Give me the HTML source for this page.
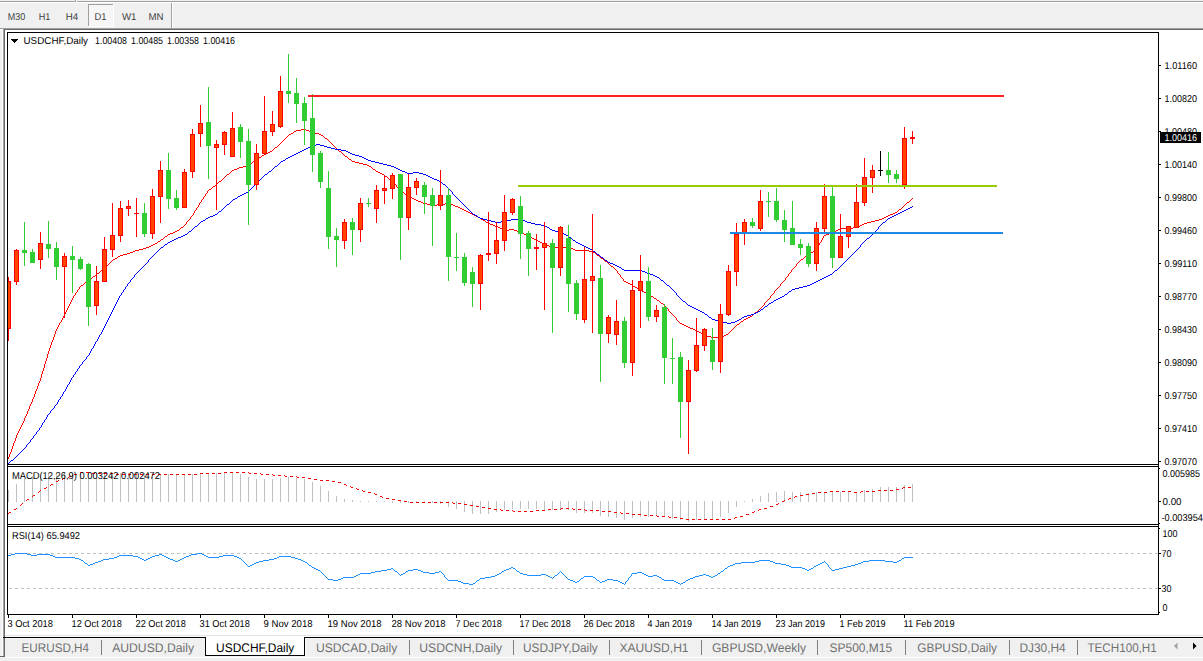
<!DOCTYPE html>
<html><head><meta charset="utf-8"><title>USDCHF,Daily</title>
<style>html,body{margin:0;padding:0;background:#f0f0f0;overflow:hidden}svg{display:block}text{font-family:"Liberation Sans",sans-serif;text-rendering:geometricPrecision}</style></head>
<body>
<svg width="1203" height="661" viewBox="0 0 1203 661">
<g shape-rendering="crispEdges"><rect x="0" y="0" width="1203" height="661" fill="#f0f0f0"/><rect x="0" y="1" width="1203" height="1" fill="#a0a0a0"/><rect x="0" y="2" width="1203" height="1" fill="#ffffff"/><rect x="75" y="0" width="1" height="2" fill="#a0a0a0"/><rect x="76" y="0" width="1" height="2" fill="#ffffff"/><rect x="88" y="4" width="26" height="23" fill="#f6f6f6"/><rect x="88" y="4" width="26" height="1" fill="#a0a0a0"/><rect x="88" y="4" width="1" height="23" fill="#a0a0a0"/><rect x="113" y="4" width="1" height="23" fill="#ffffff"/><rect x="88" y="26" width="26" height="1" fill="#ffffff"/><rect x="171" y="3" width="1" height="25" fill="#a0a0a0"/><rect x="172" y="3" width="1" height="25" fill="#ffffff"/><rect x="0" y="28" width="1203" height="1" fill="#a0a0a0"/><rect x="0" y="29" width="3" height="1" fill="#ffffff"/><rect x="3" y="29" width="1200" height="1" fill="#696969"/><rect x="2" y="30" width="1" height="626" fill="#ffffff"/><rect x="3" y="29" width="1" height="627" fill="#a0a0a0"/><rect x="4" y="29" width="1" height="627" fill="#696969"/><rect x="5" y="30" width="1198" height="607" fill="#ffffff"/><rect x="5" y="635" width="1198" height="1" fill="#e3e3e3"/><rect x="5" y="636" width="1198" height="1" fill="#ffffff"/><rect x="3" y="637" width="1200" height="1" fill="#000000"/><rect x="5" y="638" width="1198" height="1" fill="#f8f8f8"/><rect x="5" y="639" width="1198" height="18" fill="#f0f0f0"/><rect x="0" y="656" width="5" height="1" fill="#696969"/><rect x="5" y="657" width="1198" height="1" fill="#ffffff"/><rect x="7" y="32" width="1152" height="1" fill="#000"/><rect x="7" y="464" width="1152" height="1" fill="#000"/><rect x="7" y="466" width="1152" height="1" fill="#000"/><rect x="7" y="524" width="1152" height="1" fill="#000"/><rect x="7" y="526" width="1152" height="1" fill="#000"/><rect x="7" y="614" width="1152" height="1" fill="#000"/><rect x="7" y="32" width="1" height="583" fill="#000"/><rect x="1158" y="32" width="1" height="583" fill="#000"/></g>
<g shape-rendering="crispEdges" fill="#c0c0c0"><rect x="9" y="553" width="1" height="1"/><rect x="10" y="553" width="1" height="1"/><rect x="11" y="553" width="1" height="1"/><rect x="15" y="553" width="1" height="1"/><rect x="16" y="553" width="1" height="1"/><rect x="17" y="553" width="1" height="1"/><rect x="21" y="553" width="1" height="1"/><rect x="22" y="553" width="1" height="1"/><rect x="23" y="553" width="1" height="1"/><rect x="27" y="553" width="1" height="1"/><rect x="28" y="553" width="1" height="1"/><rect x="29" y="553" width="1" height="1"/><rect x="33" y="553" width="1" height="1"/><rect x="34" y="553" width="1" height="1"/><rect x="35" y="553" width="1" height="1"/><rect x="39" y="553" width="1" height="1"/><rect x="40" y="553" width="1" height="1"/><rect x="41" y="553" width="1" height="1"/><rect x="45" y="553" width="1" height="1"/><rect x="46" y="553" width="1" height="1"/><rect x="47" y="553" width="1" height="1"/><rect x="51" y="553" width="1" height="1"/><rect x="52" y="553" width="1" height="1"/><rect x="53" y="553" width="1" height="1"/><rect x="57" y="553" width="1" height="1"/><rect x="58" y="553" width="1" height="1"/><rect x="59" y="553" width="1" height="1"/><rect x="63" y="553" width="1" height="1"/><rect x="64" y="553" width="1" height="1"/><rect x="65" y="553" width="1" height="1"/><rect x="69" y="553" width="1" height="1"/><rect x="70" y="553" width="1" height="1"/><rect x="71" y="553" width="1" height="1"/><rect x="75" y="553" width="1" height="1"/><rect x="76" y="553" width="1" height="1"/><rect x="77" y="553" width="1" height="1"/><rect x="81" y="553" width="1" height="1"/><rect x="82" y="553" width="1" height="1"/><rect x="83" y="553" width="1" height="1"/><rect x="87" y="553" width="1" height="1"/><rect x="88" y="553" width="1" height="1"/><rect x="89" y="553" width="1" height="1"/><rect x="93" y="553" width="1" height="1"/><rect x="94" y="553" width="1" height="1"/><rect x="95" y="553" width="1" height="1"/><rect x="99" y="553" width="1" height="1"/><rect x="100" y="553" width="1" height="1"/><rect x="101" y="553" width="1" height="1"/><rect x="105" y="553" width="1" height="1"/><rect x="106" y="553" width="1" height="1"/><rect x="107" y="553" width="1" height="1"/><rect x="111" y="553" width="1" height="1"/><rect x="112" y="553" width="1" height="1"/><rect x="113" y="553" width="1" height="1"/><rect x="117" y="553" width="1" height="1"/><rect x="118" y="553" width="1" height="1"/><rect x="119" y="553" width="1" height="1"/><rect x="123" y="553" width="1" height="1"/><rect x="124" y="553" width="1" height="1"/><rect x="125" y="553" width="1" height="1"/><rect x="129" y="553" width="1" height="1"/><rect x="130" y="553" width="1" height="1"/><rect x="131" y="553" width="1" height="1"/><rect x="135" y="553" width="1" height="1"/><rect x="136" y="553" width="1" height="1"/><rect x="137" y="553" width="1" height="1"/><rect x="141" y="553" width="1" height="1"/><rect x="142" y="553" width="1" height="1"/><rect x="143" y="553" width="1" height="1"/><rect x="147" y="553" width="1" height="1"/><rect x="148" y="553" width="1" height="1"/><rect x="149" y="553" width="1" height="1"/><rect x="153" y="553" width="1" height="1"/><rect x="154" y="553" width="1" height="1"/><rect x="155" y="553" width="1" height="1"/><rect x="159" y="553" width="1" height="1"/><rect x="160" y="553" width="1" height="1"/><rect x="161" y="553" width="1" height="1"/><rect x="165" y="553" width="1" height="1"/><rect x="166" y="553" width="1" height="1"/><rect x="167" y="553" width="1" height="1"/><rect x="171" y="553" width="1" height="1"/><rect x="172" y="553" width="1" height="1"/><rect x="173" y="553" width="1" height="1"/><rect x="177" y="553" width="1" height="1"/><rect x="178" y="553" width="1" height="1"/><rect x="179" y="553" width="1" height="1"/><rect x="183" y="553" width="1" height="1"/><rect x="184" y="553" width="1" height="1"/><rect x="185" y="553" width="1" height="1"/><rect x="189" y="553" width="1" height="1"/><rect x="190" y="553" width="1" height="1"/><rect x="191" y="553" width="1" height="1"/><rect x="195" y="553" width="1" height="1"/><rect x="196" y="553" width="1" height="1"/><rect x="197" y="553" width="1" height="1"/><rect x="201" y="553" width="1" height="1"/><rect x="202" y="553" width="1" height="1"/><rect x="203" y="553" width="1" height="1"/><rect x="207" y="553" width="1" height="1"/><rect x="208" y="553" width="1" height="1"/><rect x="209" y="553" width="1" height="1"/><rect x="213" y="553" width="1" height="1"/><rect x="214" y="553" width="1" height="1"/><rect x="215" y="553" width="1" height="1"/><rect x="219" y="553" width="1" height="1"/><rect x="220" y="553" width="1" height="1"/><rect x="221" y="553" width="1" height="1"/><rect x="225" y="553" width="1" height="1"/><rect x="226" y="553" width="1" height="1"/><rect x="227" y="553" width="1" height="1"/><rect x="231" y="553" width="1" height="1"/><rect x="232" y="553" width="1" height="1"/><rect x="233" y="553" width="1" height="1"/><rect x="237" y="553" width="1" height="1"/><rect x="238" y="553" width="1" height="1"/><rect x="239" y="553" width="1" height="1"/><rect x="243" y="553" width="1" height="1"/><rect x="244" y="553" width="1" height="1"/><rect x="245" y="553" width="1" height="1"/><rect x="249" y="553" width="1" height="1"/><rect x="250" y="553" width="1" height="1"/><rect x="251" y="553" width="1" height="1"/><rect x="255" y="553" width="1" height="1"/><rect x="256" y="553" width="1" height="1"/><rect x="257" y="553" width="1" height="1"/><rect x="261" y="553" width="1" height="1"/><rect x="262" y="553" width="1" height="1"/><rect x="263" y="553" width="1" height="1"/><rect x="267" y="553" width="1" height="1"/><rect x="268" y="553" width="1" height="1"/><rect x="269" y="553" width="1" height="1"/><rect x="273" y="553" width="1" height="1"/><rect x="274" y="553" width="1" height="1"/><rect x="275" y="553" width="1" height="1"/><rect x="279" y="553" width="1" height="1"/><rect x="280" y="553" width="1" height="1"/><rect x="281" y="553" width="1" height="1"/><rect x="285" y="553" width="1" height="1"/><rect x="286" y="553" width="1" height="1"/><rect x="287" y="553" width="1" height="1"/><rect x="291" y="553" width="1" height="1"/><rect x="292" y="553" width="1" height="1"/><rect x="293" y="553" width="1" height="1"/><rect x="297" y="553" width="1" height="1"/><rect x="298" y="553" width="1" height="1"/><rect x="299" y="553" width="1" height="1"/><rect x="303" y="553" width="1" height="1"/><rect x="304" y="553" width="1" height="1"/><rect x="305" y="553" width="1" height="1"/><rect x="309" y="553" width="1" height="1"/><rect x="310" y="553" width="1" height="1"/><rect x="311" y="553" width="1" height="1"/><rect x="315" y="553" width="1" height="1"/><rect x="316" y="553" width="1" height="1"/><rect x="317" y="553" width="1" height="1"/><rect x="321" y="553" width="1" height="1"/><rect x="322" y="553" width="1" height="1"/><rect x="323" y="553" width="1" height="1"/><rect x="327" y="553" width="1" height="1"/><rect x="328" y="553" width="1" height="1"/><rect x="329" y="553" width="1" height="1"/><rect x="333" y="553" width="1" height="1"/><rect x="334" y="553" width="1" height="1"/><rect x="335" y="553" width="1" height="1"/><rect x="339" y="553" width="1" height="1"/><rect x="340" y="553" width="1" height="1"/><rect x="341" y="553" width="1" height="1"/><rect x="345" y="553" width="1" height="1"/><rect x="346" y="553" width="1" height="1"/><rect x="347" y="553" width="1" height="1"/><rect x="351" y="553" width="1" height="1"/><rect x="352" y="553" width="1" height="1"/><rect x="353" y="553" width="1" height="1"/><rect x="357" y="553" width="1" height="1"/><rect x="358" y="553" width="1" height="1"/><rect x="359" y="553" width="1" height="1"/><rect x="363" y="553" width="1" height="1"/><rect x="364" y="553" width="1" height="1"/><rect x="365" y="553" width="1" height="1"/><rect x="369" y="553" width="1" height="1"/><rect x="370" y="553" width="1" height="1"/><rect x="371" y="553" width="1" height="1"/><rect x="375" y="553" width="1" height="1"/><rect x="376" y="553" width="1" height="1"/><rect x="377" y="553" width="1" height="1"/><rect x="381" y="553" width="1" height="1"/><rect x="382" y="553" width="1" height="1"/><rect x="383" y="553" width="1" height="1"/><rect x="387" y="553" width="1" height="1"/><rect x="388" y="553" width="1" height="1"/><rect x="389" y="553" width="1" height="1"/><rect x="393" y="553" width="1" height="1"/><rect x="394" y="553" width="1" height="1"/><rect x="395" y="553" width="1" height="1"/><rect x="399" y="553" width="1" height="1"/><rect x="400" y="553" width="1" height="1"/><rect x="401" y="553" width="1" height="1"/><rect x="405" y="553" width="1" height="1"/><rect x="406" y="553" width="1" height="1"/><rect x="407" y="553" width="1" height="1"/><rect x="411" y="553" width="1" height="1"/><rect x="412" y="553" width="1" height="1"/><rect x="413" y="553" width="1" height="1"/><rect x="417" y="553" width="1" height="1"/><rect x="418" y="553" width="1" height="1"/><rect x="419" y="553" width="1" height="1"/><rect x="423" y="553" width="1" height="1"/><rect x="424" y="553" width="1" height="1"/><rect x="425" y="553" width="1" height="1"/><rect x="429" y="553" width="1" height="1"/><rect x="430" y="553" width="1" height="1"/><rect x="431" y="553" width="1" height="1"/><rect x="435" y="553" width="1" height="1"/><rect x="436" y="553" width="1" height="1"/><rect x="437" y="553" width="1" height="1"/><rect x="441" y="553" width="1" height="1"/><rect x="442" y="553" width="1" height="1"/><rect x="443" y="553" width="1" height="1"/><rect x="447" y="553" width="1" height="1"/><rect x="448" y="553" width="1" height="1"/><rect x="449" y="553" width="1" height="1"/><rect x="453" y="553" width="1" height="1"/><rect x="454" y="553" width="1" height="1"/><rect x="455" y="553" width="1" height="1"/><rect x="459" y="553" width="1" height="1"/><rect x="460" y="553" width="1" height="1"/><rect x="461" y="553" width="1" height="1"/><rect x="465" y="553" width="1" height="1"/><rect x="466" y="553" width="1" height="1"/><rect x="467" y="553" width="1" height="1"/><rect x="471" y="553" width="1" height="1"/><rect x="472" y="553" width="1" height="1"/><rect x="473" y="553" width="1" height="1"/><rect x="477" y="553" width="1" height="1"/><rect x="478" y="553" width="1" height="1"/><rect x="479" y="553" width="1" height="1"/><rect x="483" y="553" width="1" height="1"/><rect x="484" y="553" width="1" height="1"/><rect x="485" y="553" width="1" height="1"/><rect x="489" y="553" width="1" height="1"/><rect x="490" y="553" width="1" height="1"/><rect x="491" y="553" width="1" height="1"/><rect x="495" y="553" width="1" height="1"/><rect x="496" y="553" width="1" height="1"/><rect x="497" y="553" width="1" height="1"/><rect x="501" y="553" width="1" height="1"/><rect x="502" y="553" width="1" height="1"/><rect x="503" y="553" width="1" height="1"/><rect x="507" y="553" width="1" height="1"/><rect x="508" y="553" width="1" height="1"/><rect x="509" y="553" width="1" height="1"/><rect x="513" y="553" width="1" height="1"/><rect x="514" y="553" width="1" height="1"/><rect x="515" y="553" width="1" height="1"/><rect x="519" y="553" width="1" height="1"/><rect x="520" y="553" width="1" height="1"/><rect x="521" y="553" width="1" height="1"/><rect x="525" y="553" width="1" height="1"/><rect x="526" y="553" width="1" height="1"/><rect x="527" y="553" width="1" height="1"/><rect x="531" y="553" width="1" height="1"/><rect x="532" y="553" width="1" height="1"/><rect x="533" y="553" width="1" height="1"/><rect x="537" y="553" width="1" height="1"/><rect x="538" y="553" width="1" height="1"/><rect x="539" y="553" width="1" height="1"/><rect x="543" y="553" width="1" height="1"/><rect x="544" y="553" width="1" height="1"/><rect x="545" y="553" width="1" height="1"/><rect x="549" y="553" width="1" height="1"/><rect x="550" y="553" width="1" height="1"/><rect x="551" y="553" width="1" height="1"/><rect x="555" y="553" width="1" height="1"/><rect x="556" y="553" width="1" height="1"/><rect x="557" y="553" width="1" height="1"/><rect x="561" y="553" width="1" height="1"/><rect x="562" y="553" width="1" height="1"/><rect x="563" y="553" width="1" height="1"/><rect x="567" y="553" width="1" height="1"/><rect x="568" y="553" width="1" height="1"/><rect x="569" y="553" width="1" height="1"/><rect x="573" y="553" width="1" height="1"/><rect x="574" y="553" width="1" height="1"/><rect x="575" y="553" width="1" height="1"/><rect x="579" y="553" width="1" height="1"/><rect x="580" y="553" width="1" height="1"/><rect x="581" y="553" width="1" height="1"/><rect x="585" y="553" width="1" height="1"/><rect x="586" y="553" width="1" height="1"/><rect x="587" y="553" width="1" height="1"/><rect x="591" y="553" width="1" height="1"/><rect x="592" y="553" width="1" height="1"/><rect x="593" y="553" width="1" height="1"/><rect x="597" y="553" width="1" height="1"/><rect x="598" y="553" width="1" height="1"/><rect x="599" y="553" width="1" height="1"/><rect x="603" y="553" width="1" height="1"/><rect x="604" y="553" width="1" height="1"/><rect x="605" y="553" width="1" height="1"/><rect x="609" y="553" width="1" height="1"/><rect x="610" y="553" width="1" height="1"/><rect x="611" y="553" width="1" height="1"/><rect x="615" y="553" width="1" height="1"/><rect x="616" y="553" width="1" height="1"/><rect x="617" y="553" width="1" height="1"/><rect x="621" y="553" width="1" height="1"/><rect x="622" y="553" width="1" height="1"/><rect x="623" y="553" width="1" height="1"/><rect x="627" y="553" width="1" height="1"/><rect x="628" y="553" width="1" height="1"/><rect x="629" y="553" width="1" height="1"/><rect x="633" y="553" width="1" height="1"/><rect x="634" y="553" width="1" height="1"/><rect x="635" y="553" width="1" height="1"/><rect x="639" y="553" width="1" height="1"/><rect x="640" y="553" width="1" height="1"/><rect x="641" y="553" width="1" height="1"/><rect x="645" y="553" width="1" height="1"/><rect x="646" y="553" width="1" height="1"/><rect x="647" y="553" width="1" height="1"/><rect x="651" y="553" width="1" height="1"/><rect x="652" y="553" width="1" height="1"/><rect x="653" y="553" width="1" height="1"/><rect x="657" y="553" width="1" height="1"/><rect x="658" y="553" width="1" height="1"/><rect x="659" y="553" width="1" height="1"/><rect x="663" y="553" width="1" height="1"/><rect x="664" y="553" width="1" height="1"/><rect x="665" y="553" width="1" height="1"/><rect x="669" y="553" width="1" height="1"/><rect x="670" y="553" width="1" height="1"/><rect x="671" y="553" width="1" height="1"/><rect x="675" y="553" width="1" height="1"/><rect x="676" y="553" width="1" height="1"/><rect x="677" y="553" width="1" height="1"/><rect x="681" y="553" width="1" height="1"/><rect x="682" y="553" width="1" height="1"/><rect x="683" y="553" width="1" height="1"/><rect x="687" y="553" width="1" height="1"/><rect x="688" y="553" width="1" height="1"/><rect x="689" y="553" width="1" height="1"/><rect x="693" y="553" width="1" height="1"/><rect x="694" y="553" width="1" height="1"/><rect x="695" y="553" width="1" height="1"/><rect x="699" y="553" width="1" height="1"/><rect x="700" y="553" width="1" height="1"/><rect x="701" y="553" width="1" height="1"/><rect x="705" y="553" width="1" height="1"/><rect x="706" y="553" width="1" height="1"/><rect x="707" y="553" width="1" height="1"/><rect x="711" y="553" width="1" height="1"/><rect x="712" y="553" width="1" height="1"/><rect x="713" y="553" width="1" height="1"/><rect x="717" y="553" width="1" height="1"/><rect x="718" y="553" width="1" height="1"/><rect x="719" y="553" width="1" height="1"/><rect x="723" y="553" width="1" height="1"/><rect x="724" y="553" width="1" height="1"/><rect x="725" y="553" width="1" height="1"/><rect x="729" y="553" width="1" height="1"/><rect x="730" y="553" width="1" height="1"/><rect x="731" y="553" width="1" height="1"/><rect x="735" y="553" width="1" height="1"/><rect x="736" y="553" width="1" height="1"/><rect x="737" y="553" width="1" height="1"/><rect x="741" y="553" width="1" height="1"/><rect x="742" y="553" width="1" height="1"/><rect x="743" y="553" width="1" height="1"/><rect x="747" y="553" width="1" height="1"/><rect x="748" y="553" width="1" height="1"/><rect x="749" y="553" width="1" height="1"/><rect x="753" y="553" width="1" height="1"/><rect x="754" y="553" width="1" height="1"/><rect x="755" y="553" width="1" height="1"/><rect x="759" y="553" width="1" height="1"/><rect x="760" y="553" width="1" height="1"/><rect x="761" y="553" width="1" height="1"/><rect x="765" y="553" width="1" height="1"/><rect x="766" y="553" width="1" height="1"/><rect x="767" y="553" width="1" height="1"/><rect x="771" y="553" width="1" height="1"/><rect x="772" y="553" width="1" height="1"/><rect x="773" y="553" width="1" height="1"/><rect x="777" y="553" width="1" height="1"/><rect x="778" y="553" width="1" height="1"/><rect x="779" y="553" width="1" height="1"/><rect x="783" y="553" width="1" height="1"/><rect x="784" y="553" width="1" height="1"/><rect x="785" y="553" width="1" height="1"/><rect x="789" y="553" width="1" height="1"/><rect x="790" y="553" width="1" height="1"/><rect x="791" y="553" width="1" height="1"/><rect x="795" y="553" width="1" height="1"/><rect x="796" y="553" width="1" height="1"/><rect x="797" y="553" width="1" height="1"/><rect x="801" y="553" width="1" height="1"/><rect x="802" y="553" width="1" height="1"/><rect x="803" y="553" width="1" height="1"/><rect x="807" y="553" width="1" height="1"/><rect x="808" y="553" width="1" height="1"/><rect x="809" y="553" width="1" height="1"/><rect x="813" y="553" width="1" height="1"/><rect x="814" y="553" width="1" height="1"/><rect x="815" y="553" width="1" height="1"/><rect x="819" y="553" width="1" height="1"/><rect x="820" y="553" width="1" height="1"/><rect x="821" y="553" width="1" height="1"/><rect x="825" y="553" width="1" height="1"/><rect x="826" y="553" width="1" height="1"/><rect x="827" y="553" width="1" height="1"/><rect x="831" y="553" width="1" height="1"/><rect x="832" y="553" width="1" height="1"/><rect x="833" y="553" width="1" height="1"/><rect x="837" y="553" width="1" height="1"/><rect x="838" y="553" width="1" height="1"/><rect x="839" y="553" width="1" height="1"/><rect x="843" y="553" width="1" height="1"/><rect x="844" y="553" width="1" height="1"/><rect x="845" y="553" width="1" height="1"/><rect x="849" y="553" width="1" height="1"/><rect x="850" y="553" width="1" height="1"/><rect x="851" y="553" width="1" height="1"/><rect x="855" y="553" width="1" height="1"/><rect x="856" y="553" width="1" height="1"/><rect x="857" y="553" width="1" height="1"/><rect x="861" y="553" width="1" height="1"/><rect x="862" y="553" width="1" height="1"/><rect x="863" y="553" width="1" height="1"/><rect x="867" y="553" width="1" height="1"/><rect x="868" y="553" width="1" height="1"/><rect x="869" y="553" width="1" height="1"/><rect x="873" y="553" width="1" height="1"/><rect x="874" y="553" width="1" height="1"/><rect x="875" y="553" width="1" height="1"/><rect x="879" y="553" width="1" height="1"/><rect x="880" y="553" width="1" height="1"/><rect x="881" y="553" width="1" height="1"/><rect x="885" y="553" width="1" height="1"/><rect x="886" y="553" width="1" height="1"/><rect x="887" y="553" width="1" height="1"/><rect x="891" y="553" width="1" height="1"/><rect x="892" y="553" width="1" height="1"/><rect x="893" y="553" width="1" height="1"/><rect x="897" y="553" width="1" height="1"/><rect x="898" y="553" width="1" height="1"/><rect x="899" y="553" width="1" height="1"/><rect x="903" y="553" width="1" height="1"/><rect x="904" y="553" width="1" height="1"/><rect x="905" y="553" width="1" height="1"/><rect x="909" y="553" width="1" height="1"/><rect x="910" y="553" width="1" height="1"/><rect x="911" y="553" width="1" height="1"/><rect x="915" y="553" width="1" height="1"/><rect x="916" y="553" width="1" height="1"/><rect x="917" y="553" width="1" height="1"/><rect x="921" y="553" width="1" height="1"/><rect x="922" y="553" width="1" height="1"/><rect x="923" y="553" width="1" height="1"/><rect x="927" y="553" width="1" height="1"/><rect x="928" y="553" width="1" height="1"/><rect x="929" y="553" width="1" height="1"/><rect x="933" y="553" width="1" height="1"/><rect x="934" y="553" width="1" height="1"/><rect x="935" y="553" width="1" height="1"/><rect x="939" y="553" width="1" height="1"/><rect x="940" y="553" width="1" height="1"/><rect x="941" y="553" width="1" height="1"/><rect x="945" y="553" width="1" height="1"/><rect x="946" y="553" width="1" height="1"/><rect x="947" y="553" width="1" height="1"/><rect x="951" y="553" width="1" height="1"/><rect x="952" y="553" width="1" height="1"/><rect x="953" y="553" width="1" height="1"/><rect x="957" y="553" width="1" height="1"/><rect x="958" y="553" width="1" height="1"/><rect x="959" y="553" width="1" height="1"/><rect x="963" y="553" width="1" height="1"/><rect x="964" y="553" width="1" height="1"/><rect x="965" y="553" width="1" height="1"/><rect x="969" y="553" width="1" height="1"/><rect x="970" y="553" width="1" height="1"/><rect x="971" y="553" width="1" height="1"/><rect x="975" y="553" width="1" height="1"/><rect x="976" y="553" width="1" height="1"/><rect x="977" y="553" width="1" height="1"/><rect x="981" y="553" width="1" height="1"/><rect x="982" y="553" width="1" height="1"/><rect x="983" y="553" width="1" height="1"/><rect x="987" y="553" width="1" height="1"/><rect x="988" y="553" width="1" height="1"/><rect x="989" y="553" width="1" height="1"/><rect x="993" y="553" width="1" height="1"/><rect x="994" y="553" width="1" height="1"/><rect x="995" y="553" width="1" height="1"/><rect x="999" y="553" width="1" height="1"/><rect x="1000" y="553" width="1" height="1"/><rect x="1001" y="553" width="1" height="1"/><rect x="1005" y="553" width="1" height="1"/><rect x="1006" y="553" width="1" height="1"/><rect x="1007" y="553" width="1" height="1"/><rect x="1011" y="553" width="1" height="1"/><rect x="1012" y="553" width="1" height="1"/><rect x="1013" y="553" width="1" height="1"/><rect x="1017" y="553" width="1" height="1"/><rect x="1018" y="553" width="1" height="1"/><rect x="1019" y="553" width="1" height="1"/><rect x="1023" y="553" width="1" height="1"/><rect x="1024" y="553" width="1" height="1"/><rect x="1025" y="553" width="1" height="1"/><rect x="1029" y="553" width="1" height="1"/><rect x="1030" y="553" width="1" height="1"/><rect x="1031" y="553" width="1" height="1"/><rect x="1035" y="553" width="1" height="1"/><rect x="1036" y="553" width="1" height="1"/><rect x="1037" y="553" width="1" height="1"/><rect x="1041" y="553" width="1" height="1"/><rect x="1042" y="553" width="1" height="1"/><rect x="1043" y="553" width="1" height="1"/><rect x="1047" y="553" width="1" height="1"/><rect x="1048" y="553" width="1" height="1"/><rect x="1049" y="553" width="1" height="1"/><rect x="1053" y="553" width="1" height="1"/><rect x="1054" y="553" width="1" height="1"/><rect x="1055" y="553" width="1" height="1"/><rect x="1059" y="553" width="1" height="1"/><rect x="1060" y="553" width="1" height="1"/><rect x="1061" y="553" width="1" height="1"/><rect x="1065" y="553" width="1" height="1"/><rect x="1066" y="553" width="1" height="1"/><rect x="1067" y="553" width="1" height="1"/><rect x="1071" y="553" width="1" height="1"/><rect x="1072" y="553" width="1" height="1"/><rect x="1073" y="553" width="1" height="1"/><rect x="1077" y="553" width="1" height="1"/><rect x="1078" y="553" width="1" height="1"/><rect x="1079" y="553" width="1" height="1"/><rect x="1083" y="553" width="1" height="1"/><rect x="1084" y="553" width="1" height="1"/><rect x="1085" y="553" width="1" height="1"/><rect x="1089" y="553" width="1" height="1"/><rect x="1090" y="553" width="1" height="1"/><rect x="1091" y="553" width="1" height="1"/><rect x="1095" y="553" width="1" height="1"/><rect x="1096" y="553" width="1" height="1"/><rect x="1097" y="553" width="1" height="1"/><rect x="1101" y="553" width="1" height="1"/><rect x="1102" y="553" width="1" height="1"/><rect x="1103" y="553" width="1" height="1"/><rect x="1107" y="553" width="1" height="1"/><rect x="1108" y="553" width="1" height="1"/><rect x="1109" y="553" width="1" height="1"/><rect x="1113" y="553" width="1" height="1"/><rect x="1114" y="553" width="1" height="1"/><rect x="1115" y="553" width="1" height="1"/><rect x="1119" y="553" width="1" height="1"/><rect x="1120" y="553" width="1" height="1"/><rect x="1121" y="553" width="1" height="1"/><rect x="1125" y="553" width="1" height="1"/><rect x="1126" y="553" width="1" height="1"/><rect x="1127" y="553" width="1" height="1"/><rect x="1131" y="553" width="1" height="1"/><rect x="1132" y="553" width="1" height="1"/><rect x="1133" y="553" width="1" height="1"/><rect x="1137" y="553" width="1" height="1"/><rect x="1138" y="553" width="1" height="1"/><rect x="1139" y="553" width="1" height="1"/><rect x="1143" y="553" width="1" height="1"/><rect x="1144" y="553" width="1" height="1"/><rect x="1145" y="553" width="1" height="1"/><rect x="1149" y="553" width="1" height="1"/><rect x="1150" y="553" width="1" height="1"/><rect x="1151" y="553" width="1" height="1"/><rect x="1155" y="553" width="1" height="1"/><rect x="1156" y="553" width="1" height="1"/><rect x="1157" y="553" width="1" height="1"/><rect x="9" y="588" width="1" height="1"/><rect x="10" y="588" width="1" height="1"/><rect x="11" y="588" width="1" height="1"/><rect x="15" y="588" width="1" height="1"/><rect x="16" y="588" width="1" height="1"/><rect x="17" y="588" width="1" height="1"/><rect x="21" y="588" width="1" height="1"/><rect x="22" y="588" width="1" height="1"/><rect x="23" y="588" width="1" height="1"/><rect x="27" y="588" width="1" height="1"/><rect x="28" y="588" width="1" height="1"/><rect x="29" y="588" width="1" height="1"/><rect x="33" y="588" width="1" height="1"/><rect x="34" y="588" width="1" height="1"/><rect x="35" y="588" width="1" height="1"/><rect x="39" y="588" width="1" height="1"/><rect x="40" y="588" width="1" height="1"/><rect x="41" y="588" width="1" height="1"/><rect x="45" y="588" width="1" height="1"/><rect x="46" y="588" width="1" height="1"/><rect x="47" y="588" width="1" height="1"/><rect x="51" y="588" width="1" height="1"/><rect x="52" y="588" width="1" height="1"/><rect x="53" y="588" width="1" height="1"/><rect x="57" y="588" width="1" height="1"/><rect x="58" y="588" width="1" height="1"/><rect x="59" y="588" width="1" height="1"/><rect x="63" y="588" width="1" height="1"/><rect x="64" y="588" width="1" height="1"/><rect x="65" y="588" width="1" height="1"/><rect x="69" y="588" width="1" height="1"/><rect x="70" y="588" width="1" height="1"/><rect x="71" y="588" width="1" height="1"/><rect x="75" y="588" width="1" height="1"/><rect x="76" y="588" width="1" height="1"/><rect x="77" y="588" width="1" height="1"/><rect x="81" y="588" width="1" height="1"/><rect x="82" y="588" width="1" height="1"/><rect x="83" y="588" width="1" height="1"/><rect x="87" y="588" width="1" height="1"/><rect x="88" y="588" width="1" height="1"/><rect x="89" y="588" width="1" height="1"/><rect x="93" y="588" width="1" height="1"/><rect x="94" y="588" width="1" height="1"/><rect x="95" y="588" width="1" height="1"/><rect x="99" y="588" width="1" height="1"/><rect x="100" y="588" width="1" height="1"/><rect x="101" y="588" width="1" height="1"/><rect x="105" y="588" width="1" height="1"/><rect x="106" y="588" width="1" height="1"/><rect x="107" y="588" width="1" height="1"/><rect x="111" y="588" width="1" height="1"/><rect x="112" y="588" width="1" height="1"/><rect x="113" y="588" width="1" height="1"/><rect x="117" y="588" width="1" height="1"/><rect x="118" y="588" width="1" height="1"/><rect x="119" y="588" width="1" height="1"/><rect x="123" y="588" width="1" height="1"/><rect x="124" y="588" width="1" height="1"/><rect x="125" y="588" width="1" height="1"/><rect x="129" y="588" width="1" height="1"/><rect x="130" y="588" width="1" height="1"/><rect x="131" y="588" width="1" height="1"/><rect x="135" y="588" width="1" height="1"/><rect x="136" y="588" width="1" height="1"/><rect x="137" y="588" width="1" height="1"/><rect x="141" y="588" width="1" height="1"/><rect x="142" y="588" width="1" height="1"/><rect x="143" y="588" width="1" height="1"/><rect x="147" y="588" width="1" height="1"/><rect x="148" y="588" width="1" height="1"/><rect x="149" y="588" width="1" height="1"/><rect x="153" y="588" width="1" height="1"/><rect x="154" y="588" width="1" height="1"/><rect x="155" y="588" width="1" height="1"/><rect x="159" y="588" width="1" height="1"/><rect x="160" y="588" width="1" height="1"/><rect x="161" y="588" width="1" height="1"/><rect x="165" y="588" width="1" height="1"/><rect x="166" y="588" width="1" height="1"/><rect x="167" y="588" width="1" height="1"/><rect x="171" y="588" width="1" height="1"/><rect x="172" y="588" width="1" height="1"/><rect x="173" y="588" width="1" height="1"/><rect x="177" y="588" width="1" height="1"/><rect x="178" y="588" width="1" height="1"/><rect x="179" y="588" width="1" height="1"/><rect x="183" y="588" width="1" height="1"/><rect x="184" y="588" width="1" height="1"/><rect x="185" y="588" width="1" height="1"/><rect x="189" y="588" width="1" height="1"/><rect x="190" y="588" width="1" height="1"/><rect x="191" y="588" width="1" height="1"/><rect x="195" y="588" width="1" height="1"/><rect x="196" y="588" width="1" height="1"/><rect x="197" y="588" width="1" height="1"/><rect x="201" y="588" width="1" height="1"/><rect x="202" y="588" width="1" height="1"/><rect x="203" y="588" width="1" height="1"/><rect x="207" y="588" width="1" height="1"/><rect x="208" y="588" width="1" height="1"/><rect x="209" y="588" width="1" height="1"/><rect x="213" y="588" width="1" height="1"/><rect x="214" y="588" width="1" height="1"/><rect x="215" y="588" width="1" height="1"/><rect x="219" y="588" width="1" height="1"/><rect x="220" y="588" width="1" height="1"/><rect x="221" y="588" width="1" height="1"/><rect x="225" y="588" width="1" height="1"/><rect x="226" y="588" width="1" height="1"/><rect x="227" y="588" width="1" height="1"/><rect x="231" y="588" width="1" height="1"/><rect x="232" y="588" width="1" height="1"/><rect x="233" y="588" width="1" height="1"/><rect x="237" y="588" width="1" height="1"/><rect x="238" y="588" width="1" height="1"/><rect x="239" y="588" width="1" height="1"/><rect x="243" y="588" width="1" height="1"/><rect x="244" y="588" width="1" height="1"/><rect x="245" y="588" width="1" height="1"/><rect x="249" y="588" width="1" height="1"/><rect x="250" y="588" width="1" height="1"/><rect x="251" y="588" width="1" height="1"/><rect x="255" y="588" width="1" height="1"/><rect x="256" y="588" width="1" height="1"/><rect x="257" y="588" width="1" height="1"/><rect x="261" y="588" width="1" height="1"/><rect x="262" y="588" width="1" height="1"/><rect x="263" y="588" width="1" height="1"/><rect x="267" y="588" width="1" height="1"/><rect x="268" y="588" width="1" height="1"/><rect x="269" y="588" width="1" height="1"/><rect x="273" y="588" width="1" height="1"/><rect x="274" y="588" width="1" height="1"/><rect x="275" y="588" width="1" height="1"/><rect x="279" y="588" width="1" height="1"/><rect x="280" y="588" width="1" height="1"/><rect x="281" y="588" width="1" height="1"/><rect x="285" y="588" width="1" height="1"/><rect x="286" y="588" width="1" height="1"/><rect x="287" y="588" width="1" height="1"/><rect x="291" y="588" width="1" height="1"/><rect x="292" y="588" width="1" height="1"/><rect x="293" y="588" width="1" height="1"/><rect x="297" y="588" width="1" height="1"/><rect x="298" y="588" width="1" height="1"/><rect x="299" y="588" width="1" height="1"/><rect x="303" y="588" width="1" height="1"/><rect x="304" y="588" width="1" height="1"/><rect x="305" y="588" width="1" height="1"/><rect x="309" y="588" width="1" height="1"/><rect x="310" y="588" width="1" height="1"/><rect x="311" y="588" width="1" height="1"/><rect x="315" y="588" width="1" height="1"/><rect x="316" y="588" width="1" height="1"/><rect x="317" y="588" width="1" height="1"/><rect x="321" y="588" width="1" height="1"/><rect x="322" y="588" width="1" height="1"/><rect x="323" y="588" width="1" height="1"/><rect x="327" y="588" width="1" height="1"/><rect x="328" y="588" width="1" height="1"/><rect x="329" y="588" width="1" height="1"/><rect x="333" y="588" width="1" height="1"/><rect x="334" y="588" width="1" height="1"/><rect x="335" y="588" width="1" height="1"/><rect x="339" y="588" width="1" height="1"/><rect x="340" y="588" width="1" height="1"/><rect x="341" y="588" width="1" height="1"/><rect x="345" y="588" width="1" height="1"/><rect x="346" y="588" width="1" height="1"/><rect x="347" y="588" width="1" height="1"/><rect x="351" y="588" width="1" height="1"/><rect x="352" y="588" width="1" height="1"/><rect x="353" y="588" width="1" height="1"/><rect x="357" y="588" width="1" height="1"/><rect x="358" y="588" width="1" height="1"/><rect x="359" y="588" width="1" height="1"/><rect x="363" y="588" width="1" height="1"/><rect x="364" y="588" width="1" height="1"/><rect x="365" y="588" width="1" height="1"/><rect x="369" y="588" width="1" height="1"/><rect x="370" y="588" width="1" height="1"/><rect x="371" y="588" width="1" height="1"/><rect x="375" y="588" width="1" height="1"/><rect x="376" y="588" width="1" height="1"/><rect x="377" y="588" width="1" height="1"/><rect x="381" y="588" width="1" height="1"/><rect x="382" y="588" width="1" height="1"/><rect x="383" y="588" width="1" height="1"/><rect x="387" y="588" width="1" height="1"/><rect x="388" y="588" width="1" height="1"/><rect x="389" y="588" width="1" height="1"/><rect x="393" y="588" width="1" height="1"/><rect x="394" y="588" width="1" height="1"/><rect x="395" y="588" width="1" height="1"/><rect x="399" y="588" width="1" height="1"/><rect x="400" y="588" width="1" height="1"/><rect x="401" y="588" width="1" height="1"/><rect x="405" y="588" width="1" height="1"/><rect x="406" y="588" width="1" height="1"/><rect x="407" y="588" width="1" height="1"/><rect x="411" y="588" width="1" height="1"/><rect x="412" y="588" width="1" height="1"/><rect x="413" y="588" width="1" height="1"/><rect x="417" y="588" width="1" height="1"/><rect x="418" y="588" width="1" height="1"/><rect x="419" y="588" width="1" height="1"/><rect x="423" y="588" width="1" height="1"/><rect x="424" y="588" width="1" height="1"/><rect x="425" y="588" width="1" height="1"/><rect x="429" y="588" width="1" height="1"/><rect x="430" y="588" width="1" height="1"/><rect x="431" y="588" width="1" height="1"/><rect x="435" y="588" width="1" height="1"/><rect x="436" y="588" width="1" height="1"/><rect x="437" y="588" width="1" height="1"/><rect x="441" y="588" width="1" height="1"/><rect x="442" y="588" width="1" height="1"/><rect x="443" y="588" width="1" height="1"/><rect x="447" y="588" width="1" height="1"/><rect x="448" y="588" width="1" height="1"/><rect x="449" y="588" width="1" height="1"/><rect x="453" y="588" width="1" height="1"/><rect x="454" y="588" width="1" height="1"/><rect x="455" y="588" width="1" height="1"/><rect x="459" y="588" width="1" height="1"/><rect x="460" y="588" width="1" height="1"/><rect x="461" y="588" width="1" height="1"/><rect x="465" y="588" width="1" height="1"/><rect x="466" y="588" width="1" height="1"/><rect x="467" y="588" width="1" height="1"/><rect x="471" y="588" width="1" height="1"/><rect x="472" y="588" width="1" height="1"/><rect x="473" y="588" width="1" height="1"/><rect x="477" y="588" width="1" height="1"/><rect x="478" y="588" width="1" height="1"/><rect x="479" y="588" width="1" height="1"/><rect x="483" y="588" width="1" height="1"/><rect x="484" y="588" width="1" height="1"/><rect x="485" y="588" width="1" height="1"/><rect x="489" y="588" width="1" height="1"/><rect x="490" y="588" width="1" height="1"/><rect x="491" y="588" width="1" height="1"/><rect x="495" y="588" width="1" height="1"/><rect x="496" y="588" width="1" height="1"/><rect x="497" y="588" width="1" height="1"/><rect x="501" y="588" width="1" height="1"/><rect x="502" y="588" width="1" height="1"/><rect x="503" y="588" width="1" height="1"/><rect x="507" y="588" width="1" height="1"/><rect x="508" y="588" width="1" height="1"/><rect x="509" y="588" width="1" height="1"/><rect x="513" y="588" width="1" height="1"/><rect x="514" y="588" width="1" height="1"/><rect x="515" y="588" width="1" height="1"/><rect x="519" y="588" width="1" height="1"/><rect x="520" y="588" width="1" height="1"/><rect x="521" y="588" width="1" height="1"/><rect x="525" y="588" width="1" height="1"/><rect x="526" y="588" width="1" height="1"/><rect x="527" y="588" width="1" height="1"/><rect x="531" y="588" width="1" height="1"/><rect x="532" y="588" width="1" height="1"/><rect x="533" y="588" width="1" height="1"/><rect x="537" y="588" width="1" height="1"/><rect x="538" y="588" width="1" height="1"/><rect x="539" y="588" width="1" height="1"/><rect x="543" y="588" width="1" height="1"/><rect x="544" y="588" width="1" height="1"/><rect x="545" y="588" width="1" height="1"/><rect x="549" y="588" width="1" height="1"/><rect x="550" y="588" width="1" height="1"/><rect x="551" y="588" width="1" height="1"/><rect x="555" y="588" width="1" height="1"/><rect x="556" y="588" width="1" height="1"/><rect x="557" y="588" width="1" height="1"/><rect x="561" y="588" width="1" height="1"/><rect x="562" y="588" width="1" height="1"/><rect x="563" y="588" width="1" height="1"/><rect x="567" y="588" width="1" height="1"/><rect x="568" y="588" width="1" height="1"/><rect x="569" y="588" width="1" height="1"/><rect x="573" y="588" width="1" height="1"/><rect x="574" y="588" width="1" height="1"/><rect x="575" y="588" width="1" height="1"/><rect x="579" y="588" width="1" height="1"/><rect x="580" y="588" width="1" height="1"/><rect x="581" y="588" width="1" height="1"/><rect x="585" y="588" width="1" height="1"/><rect x="586" y="588" width="1" height="1"/><rect x="587" y="588" width="1" height="1"/><rect x="591" y="588" width="1" height="1"/><rect x="592" y="588" width="1" height="1"/><rect x="593" y="588" width="1" height="1"/><rect x="597" y="588" width="1" height="1"/><rect x="598" y="588" width="1" height="1"/><rect x="599" y="588" width="1" height="1"/><rect x="603" y="588" width="1" height="1"/><rect x="604" y="588" width="1" height="1"/><rect x="605" y="588" width="1" height="1"/><rect x="609" y="588" width="1" height="1"/><rect x="610" y="588" width="1" height="1"/><rect x="611" y="588" width="1" height="1"/><rect x="615" y="588" width="1" height="1"/><rect x="616" y="588" width="1" height="1"/><rect x="617" y="588" width="1" height="1"/><rect x="621" y="588" width="1" height="1"/><rect x="622" y="588" width="1" height="1"/><rect x="623" y="588" width="1" height="1"/><rect x="627" y="588" width="1" height="1"/><rect x="628" y="588" width="1" height="1"/><rect x="629" y="588" width="1" height="1"/><rect x="633" y="588" width="1" height="1"/><rect x="634" y="588" width="1" height="1"/><rect x="635" y="588" width="1" height="1"/><rect x="639" y="588" width="1" height="1"/><rect x="640" y="588" width="1" height="1"/><rect x="641" y="588" width="1" height="1"/><rect x="645" y="588" width="1" height="1"/><rect x="646" y="588" width="1" height="1"/><rect x="647" y="588" width="1" height="1"/><rect x="651" y="588" width="1" height="1"/><rect x="652" y="588" width="1" height="1"/><rect x="653" y="588" width="1" height="1"/><rect x="657" y="588" width="1" height="1"/><rect x="658" y="588" width="1" height="1"/><rect x="659" y="588" width="1" height="1"/><rect x="663" y="588" width="1" height="1"/><rect x="664" y="588" width="1" height="1"/><rect x="665" y="588" width="1" height="1"/><rect x="669" y="588" width="1" height="1"/><rect x="670" y="588" width="1" height="1"/><rect x="671" y="588" width="1" height="1"/><rect x="675" y="588" width="1" height="1"/><rect x="676" y="588" width="1" height="1"/><rect x="677" y="588" width="1" height="1"/><rect x="681" y="588" width="1" height="1"/><rect x="682" y="588" width="1" height="1"/><rect x="683" y="588" width="1" height="1"/><rect x="687" y="588" width="1" height="1"/><rect x="688" y="588" width="1" height="1"/><rect x="689" y="588" width="1" height="1"/><rect x="693" y="588" width="1" height="1"/><rect x="694" y="588" width="1" height="1"/><rect x="695" y="588" width="1" height="1"/><rect x="699" y="588" width="1" height="1"/><rect x="700" y="588" width="1" height="1"/><rect x="701" y="588" width="1" height="1"/><rect x="705" y="588" width="1" height="1"/><rect x="706" y="588" width="1" height="1"/><rect x="707" y="588" width="1" height="1"/><rect x="711" y="588" width="1" height="1"/><rect x="712" y="588" width="1" height="1"/><rect x="713" y="588" width="1" height="1"/><rect x="717" y="588" width="1" height="1"/><rect x="718" y="588" width="1" height="1"/><rect x="719" y="588" width="1" height="1"/><rect x="723" y="588" width="1" height="1"/><rect x="724" y="588" width="1" height="1"/><rect x="725" y="588" width="1" height="1"/><rect x="729" y="588" width="1" height="1"/><rect x="730" y="588" width="1" height="1"/><rect x="731" y="588" width="1" height="1"/><rect x="735" y="588" width="1" height="1"/><rect x="736" y="588" width="1" height="1"/><rect x="737" y="588" width="1" height="1"/><rect x="741" y="588" width="1" height="1"/><rect x="742" y="588" width="1" height="1"/><rect x="743" y="588" width="1" height="1"/><rect x="747" y="588" width="1" height="1"/><rect x="748" y="588" width="1" height="1"/><rect x="749" y="588" width="1" height="1"/><rect x="753" y="588" width="1" height="1"/><rect x="754" y="588" width="1" height="1"/><rect x="755" y="588" width="1" height="1"/><rect x="759" y="588" width="1" height="1"/><rect x="760" y="588" width="1" height="1"/><rect x="761" y="588" width="1" height="1"/><rect x="765" y="588" width="1" height="1"/><rect x="766" y="588" width="1" height="1"/><rect x="767" y="588" width="1" height="1"/><rect x="771" y="588" width="1" height="1"/><rect x="772" y="588" width="1" height="1"/><rect x="773" y="588" width="1" height="1"/><rect x="777" y="588" width="1" height="1"/><rect x="778" y="588" width="1" height="1"/><rect x="779" y="588" width="1" height="1"/><rect x="783" y="588" width="1" height="1"/><rect x="784" y="588" width="1" height="1"/><rect x="785" y="588" width="1" height="1"/><rect x="789" y="588" width="1" height="1"/><rect x="790" y="588" width="1" height="1"/><rect x="791" y="588" width="1" height="1"/><rect x="795" y="588" width="1" height="1"/><rect x="796" y="588" width="1" height="1"/><rect x="797" y="588" width="1" height="1"/><rect x="801" y="588" width="1" height="1"/><rect x="802" y="588" width="1" height="1"/><rect x="803" y="588" width="1" height="1"/><rect x="807" y="588" width="1" height="1"/><rect x="808" y="588" width="1" height="1"/><rect x="809" y="588" width="1" height="1"/><rect x="813" y="588" width="1" height="1"/><rect x="814" y="588" width="1" height="1"/><rect x="815" y="588" width="1" height="1"/><rect x="819" y="588" width="1" height="1"/><rect x="820" y="588" width="1" height="1"/><rect x="821" y="588" width="1" height="1"/><rect x="825" y="588" width="1" height="1"/><rect x="826" y="588" width="1" height="1"/><rect x="827" y="588" width="1" height="1"/><rect x="831" y="588" width="1" height="1"/><rect x="832" y="588" width="1" height="1"/><rect x="833" y="588" width="1" height="1"/><rect x="837" y="588" width="1" height="1"/><rect x="838" y="588" width="1" height="1"/><rect x="839" y="588" width="1" height="1"/><rect x="843" y="588" width="1" height="1"/><rect x="844" y="588" width="1" height="1"/><rect x="845" y="588" width="1" height="1"/><rect x="849" y="588" width="1" height="1"/><rect x="850" y="588" width="1" height="1"/><rect x="851" y="588" width="1" height="1"/><rect x="855" y="588" width="1" height="1"/><rect x="856" y="588" width="1" height="1"/><rect x="857" y="588" width="1" height="1"/><rect x="861" y="588" width="1" height="1"/><rect x="862" y="588" width="1" height="1"/><rect x="863" y="588" width="1" height="1"/><rect x="867" y="588" width="1" height="1"/><rect x="868" y="588" width="1" height="1"/><rect x="869" y="588" width="1" height="1"/><rect x="873" y="588" width="1" height="1"/><rect x="874" y="588" width="1" height="1"/><rect x="875" y="588" width="1" height="1"/><rect x="879" y="588" width="1" height="1"/><rect x="880" y="588" width="1" height="1"/><rect x="881" y="588" width="1" height="1"/><rect x="885" y="588" width="1" height="1"/><rect x="886" y="588" width="1" height="1"/><rect x="887" y="588" width="1" height="1"/><rect x="891" y="588" width="1" height="1"/><rect x="892" y="588" width="1" height="1"/><rect x="893" y="588" width="1" height="1"/><rect x="897" y="588" width="1" height="1"/><rect x="898" y="588" width="1" height="1"/><rect x="899" y="588" width="1" height="1"/><rect x="903" y="588" width="1" height="1"/><rect x="904" y="588" width="1" height="1"/><rect x="905" y="588" width="1" height="1"/><rect x="909" y="588" width="1" height="1"/><rect x="910" y="588" width="1" height="1"/><rect x="911" y="588" width="1" height="1"/><rect x="915" y="588" width="1" height="1"/><rect x="916" y="588" width="1" height="1"/><rect x="917" y="588" width="1" height="1"/><rect x="921" y="588" width="1" height="1"/><rect x="922" y="588" width="1" height="1"/><rect x="923" y="588" width="1" height="1"/><rect x="927" y="588" width="1" height="1"/><rect x="928" y="588" width="1" height="1"/><rect x="929" y="588" width="1" height="1"/><rect x="933" y="588" width="1" height="1"/><rect x="934" y="588" width="1" height="1"/><rect x="935" y="588" width="1" height="1"/><rect x="939" y="588" width="1" height="1"/><rect x="940" y="588" width="1" height="1"/><rect x="941" y="588" width="1" height="1"/><rect x="945" y="588" width="1" height="1"/><rect x="946" y="588" width="1" height="1"/><rect x="947" y="588" width="1" height="1"/><rect x="951" y="588" width="1" height="1"/><rect x="952" y="588" width="1" height="1"/><rect x="953" y="588" width="1" height="1"/><rect x="957" y="588" width="1" height="1"/><rect x="958" y="588" width="1" height="1"/><rect x="959" y="588" width="1" height="1"/><rect x="963" y="588" width="1" height="1"/><rect x="964" y="588" width="1" height="1"/><rect x="965" y="588" width="1" height="1"/><rect x="969" y="588" width="1" height="1"/><rect x="970" y="588" width="1" height="1"/><rect x="971" y="588" width="1" height="1"/><rect x="975" y="588" width="1" height="1"/><rect x="976" y="588" width="1" height="1"/><rect x="977" y="588" width="1" height="1"/><rect x="981" y="588" width="1" height="1"/><rect x="982" y="588" width="1" height="1"/><rect x="983" y="588" width="1" height="1"/><rect x="987" y="588" width="1" height="1"/><rect x="988" y="588" width="1" height="1"/><rect x="989" y="588" width="1" height="1"/><rect x="993" y="588" width="1" height="1"/><rect x="994" y="588" width="1" height="1"/><rect x="995" y="588" width="1" height="1"/><rect x="999" y="588" width="1" height="1"/><rect x="1000" y="588" width="1" height="1"/><rect x="1001" y="588" width="1" height="1"/><rect x="1005" y="588" width="1" height="1"/><rect x="1006" y="588" width="1" height="1"/><rect x="1007" y="588" width="1" height="1"/><rect x="1011" y="588" width="1" height="1"/><rect x="1012" y="588" width="1" height="1"/><rect x="1013" y="588" width="1" height="1"/><rect x="1017" y="588" width="1" height="1"/><rect x="1018" y="588" width="1" height="1"/><rect x="1019" y="588" width="1" height="1"/><rect x="1023" y="588" width="1" height="1"/><rect x="1024" y="588" width="1" height="1"/><rect x="1025" y="588" width="1" height="1"/><rect x="1029" y="588" width="1" height="1"/><rect x="1030" y="588" width="1" height="1"/><rect x="1031" y="588" width="1" height="1"/><rect x="1035" y="588" width="1" height="1"/><rect x="1036" y="588" width="1" height="1"/><rect x="1037" y="588" width="1" height="1"/><rect x="1041" y="588" width="1" height="1"/><rect x="1042" y="588" width="1" height="1"/><rect x="1043" y="588" width="1" height="1"/><rect x="1047" y="588" width="1" height="1"/><rect x="1048" y="588" width="1" height="1"/><rect x="1049" y="588" width="1" height="1"/><rect x="1053" y="588" width="1" height="1"/><rect x="1054" y="588" width="1" height="1"/><rect x="1055" y="588" width="1" height="1"/><rect x="1059" y="588" width="1" height="1"/><rect x="1060" y="588" width="1" height="1"/><rect x="1061" y="588" width="1" height="1"/><rect x="1065" y="588" width="1" height="1"/><rect x="1066" y="588" width="1" height="1"/><rect x="1067" y="588" width="1" height="1"/><rect x="1071" y="588" width="1" height="1"/><rect x="1072" y="588" width="1" height="1"/><rect x="1073" y="588" width="1" height="1"/><rect x="1077" y="588" width="1" height="1"/><rect x="1078" y="588" width="1" height="1"/><rect x="1079" y="588" width="1" height="1"/><rect x="1083" y="588" width="1" height="1"/><rect x="1084" y="588" width="1" height="1"/><rect x="1085" y="588" width="1" height="1"/><rect x="1089" y="588" width="1" height="1"/><rect x="1090" y="588" width="1" height="1"/><rect x="1091" y="588" width="1" height="1"/><rect x="1095" y="588" width="1" height="1"/><rect x="1096" y="588" width="1" height="1"/><rect x="1097" y="588" width="1" height="1"/><rect x="1101" y="588" width="1" height="1"/><rect x="1102" y="588" width="1" height="1"/><rect x="1103" y="588" width="1" height="1"/><rect x="1107" y="588" width="1" height="1"/><rect x="1108" y="588" width="1" height="1"/><rect x="1109" y="588" width="1" height="1"/><rect x="1113" y="588" width="1" height="1"/><rect x="1114" y="588" width="1" height="1"/><rect x="1115" y="588" width="1" height="1"/><rect x="1119" y="588" width="1" height="1"/><rect x="1120" y="588" width="1" height="1"/><rect x="1121" y="588" width="1" height="1"/><rect x="1125" y="588" width="1" height="1"/><rect x="1126" y="588" width="1" height="1"/><rect x="1127" y="588" width="1" height="1"/><rect x="1131" y="588" width="1" height="1"/><rect x="1132" y="588" width="1" height="1"/><rect x="1133" y="588" width="1" height="1"/><rect x="1137" y="588" width="1" height="1"/><rect x="1138" y="588" width="1" height="1"/><rect x="1139" y="588" width="1" height="1"/><rect x="1143" y="588" width="1" height="1"/><rect x="1144" y="588" width="1" height="1"/><rect x="1145" y="588" width="1" height="1"/><rect x="1149" y="588" width="1" height="1"/><rect x="1150" y="588" width="1" height="1"/><rect x="1151" y="588" width="1" height="1"/><rect x="1155" y="588" width="1" height="1"/><rect x="1156" y="588" width="1" height="1"/><rect x="1157" y="588" width="1" height="1"/></g>
<g shape-rendering="crispEdges" fill="#c0c0c0"><rect x="8" y="490" width="1" height="12" fill="#c0c0c0"/><rect x="16" y="484" width="1" height="18" fill="#c0c0c0"/><rect x="24" y="479" width="1" height="23" fill="#c0c0c0"/><rect x="32" y="476" width="1" height="26" fill="#c0c0c0"/><rect x="40" y="475" width="1" height="27" fill="#c0c0c0"/><rect x="48" y="474" width="1" height="28" fill="#c0c0c0"/><rect x="56" y="474" width="1" height="28" fill="#c0c0c0"/><rect x="64" y="473" width="1" height="29" fill="#c0c0c0"/><rect x="72" y="473" width="1" height="29" fill="#c0c0c0"/><rect x="80" y="473" width="1" height="29" fill="#c0c0c0"/><rect x="88" y="473" width="1" height="29" fill="#c0c0c0"/><rect x="96" y="473" width="1" height="29" fill="#c0c0c0"/><rect x="104" y="473" width="1" height="29" fill="#c0c0c0"/><rect x="112" y="473" width="1" height="29" fill="#c0c0c0"/><rect x="120" y="473" width="1" height="29" fill="#c0c0c0"/><rect x="128" y="473" width="1" height="29" fill="#c0c0c0"/><rect x="136" y="473" width="1" height="29" fill="#c0c0c0"/><rect x="144" y="473" width="1" height="29" fill="#c0c0c0"/><rect x="152" y="473" width="1" height="29" fill="#c0c0c0"/><rect x="160" y="474" width="1" height="28" fill="#c0c0c0"/><rect x="168" y="474" width="1" height="28" fill="#c0c0c0"/><rect x="176" y="475" width="1" height="27" fill="#c0c0c0"/><rect x="184" y="474" width="1" height="28" fill="#c0c0c0"/><rect x="192" y="474" width="1" height="28" fill="#c0c0c0"/><rect x="200" y="473" width="1" height="29" fill="#c0c0c0"/><rect x="208" y="473" width="1" height="29" fill="#c0c0c0"/><rect x="216" y="473" width="1" height="29" fill="#c0c0c0"/><rect x="224" y="473" width="1" height="29" fill="#c0c0c0"/><rect x="232" y="473" width="1" height="29" fill="#c0c0c0"/><rect x="240" y="474" width="1" height="28" fill="#c0c0c0"/><rect x="248" y="477" width="1" height="25" fill="#c0c0c0"/><rect x="256" y="479" width="1" height="23" fill="#c0c0c0"/><rect x="264" y="479" width="1" height="23" fill="#c0c0c0"/><rect x="272" y="479" width="1" height="23" fill="#c0c0c0"/><rect x="280" y="478" width="1" height="24" fill="#c0c0c0"/><rect x="288" y="477" width="1" height="25" fill="#c0c0c0"/><rect x="296" y="478" width="1" height="24" fill="#c0c0c0"/><rect x="304" y="479" width="1" height="23" fill="#c0c0c0"/><rect x="312" y="482" width="1" height="20" fill="#c0c0c0"/><rect x="320" y="486" width="1" height="16" fill="#c0c0c0"/><rect x="328" y="491" width="1" height="11" fill="#c0c0c0"/><rect x="336" y="496" width="1" height="6" fill="#c0c0c0"/><rect x="344" y="499" width="1" height="3" fill="#c0c0c0"/><rect x="352" y="500" width="1" height="2" fill="#c0c0c0"/><rect x="360" y="501" width="1" height="1" fill="#c0c0c0"/><rect x="368" y="501" width="1" height="1" fill="#c0c0c0"/><rect x="376" y="501" width="1" height="1" fill="#c0c0c0"/><rect x="384" y="501" width="1" height="1" fill="#c0c0c0"/><rect x="392" y="501" width="1" height="2" fill="#c0c0c0"/><rect x="400" y="501" width="1" height="2" fill="#c0c0c0"/><rect x="408" y="501" width="1" height="2" fill="#c0c0c0"/><rect x="416" y="501" width="1" height="2" fill="#c0c0c0"/><rect x="424" y="501" width="1" height="2" fill="#c0c0c0"/><rect x="432" y="501" width="1" height="2" fill="#c0c0c0"/><rect x="440" y="501" width="1" height="3" fill="#c0c0c0"/><rect x="448" y="501" width="1" height="6" fill="#c0c0c0"/><rect x="456" y="501" width="1" height="8" fill="#c0c0c0"/><rect x="464" y="501" width="1" height="11" fill="#c0c0c0"/><rect x="472" y="501" width="1" height="13" fill="#c0c0c0"/><rect x="480" y="501" width="1" height="13" fill="#c0c0c0"/><rect x="488" y="501" width="1" height="13" fill="#c0c0c0"/><rect x="496" y="501" width="1" height="11" fill="#c0c0c0"/><rect x="504" y="501" width="1" height="9" fill="#c0c0c0"/><rect x="512" y="501" width="1" height="8" fill="#c0c0c0"/><rect x="520" y="501" width="1" height="8" fill="#c0c0c0"/><rect x="528" y="501" width="1" height="8" fill="#c0c0c0"/><rect x="536" y="501" width="1" height="8" fill="#c0c0c0"/><rect x="544" y="501" width="1" height="9" fill="#c0c0c0"/><rect x="552" y="501" width="1" height="9" fill="#c0c0c0"/><rect x="560" y="501" width="1" height="9" fill="#c0c0c0"/><rect x="568" y="501" width="1" height="9" fill="#c0c0c0"/><rect x="576" y="501" width="1" height="12" fill="#c0c0c0"/><rect x="584" y="501" width="1" height="12" fill="#c0c0c0"/><rect x="592" y="501" width="1" height="12" fill="#c0c0c0"/><rect x="600" y="501" width="1" height="15" fill="#c0c0c0"/><rect x="608" y="501" width="1" height="16" fill="#c0c0c0"/><rect x="616" y="501" width="1" height="17" fill="#c0c0c0"/><rect x="624" y="501" width="1" height="19" fill="#c0c0c0"/><rect x="632" y="501" width="1" height="17" fill="#c0c0c0"/><rect x="640" y="501" width="1" height="16" fill="#c0c0c0"/><rect x="648" y="501" width="1" height="16" fill="#c0c0c0"/><rect x="656" y="501" width="1" height="15" fill="#c0c0c0"/><rect x="664" y="501" width="1" height="16" fill="#c0c0c0"/><rect x="672" y="501" width="1" height="18" fill="#c0c0c0"/><rect x="680" y="501" width="1" height="19" fill="#c0c0c0"/><rect x="688" y="501" width="1" height="21" fill="#c0c0c0"/><rect x="696" y="501" width="1" height="19" fill="#c0c0c0"/><rect x="704" y="501" width="1" height="18" fill="#c0c0c0"/><rect x="712" y="501" width="1" height="18" fill="#c0c0c0"/><rect x="720" y="501" width="1" height="16" fill="#c0c0c0"/><rect x="728" y="501" width="1" height="12" fill="#c0c0c0"/><rect x="736" y="501" width="1" height="6" fill="#c0c0c0"/><rect x="744" y="501" width="1" height="1" fill="#c0c0c0"/><rect x="752" y="499" width="1" height="3" fill="#c0c0c0"/><rect x="760" y="496" width="1" height="6" fill="#c0c0c0"/><rect x="768" y="493" width="1" height="9" fill="#c0c0c0"/><rect x="776" y="492" width="1" height="10" fill="#c0c0c0"/><rect x="784" y="491" width="1" height="11" fill="#c0c0c0"/><rect x="792" y="492" width="1" height="10" fill="#c0c0c0"/><rect x="800" y="492" width="1" height="10" fill="#c0c0c0"/><rect x="808" y="493" width="1" height="9" fill="#c0c0c0"/><rect x="816" y="492" width="1" height="10" fill="#c0c0c0"/><rect x="824" y="492" width="1" height="10" fill="#c0c0c0"/><rect x="832" y="492" width="1" height="10" fill="#c0c0c0"/><rect x="840" y="492" width="1" height="10" fill="#c0c0c0"/><rect x="848" y="492" width="1" height="10" fill="#c0c0c0"/><rect x="856" y="492" width="1" height="10" fill="#c0c0c0"/><rect x="864" y="490" width="1" height="12" fill="#c0c0c0"/><rect x="872" y="489" width="1" height="13" fill="#c0c0c0"/><rect x="880" y="487" width="1" height="15" fill="#c0c0c0"/><rect x="888" y="487" width="1" height="15" fill="#c0c0c0"/><rect x="896" y="487" width="1" height="15" fill="#c0c0c0"/><rect x="904" y="485" width="1" height="17" fill="#c0c0c0"/><rect x="912" y="484" width="1" height="18" fill="#c0c0c0"/></g>
<path d="M80 472h3v1h-3zM86 472h3v1h-3zM224 472h3v1h-3zM230 472h3v1h-3zM236 472h3v1h-3zM242 472h3v1h-3zM248 472h1v1h-1zM92 473h3v1h-3zM98 473h3v1h-3zM104 473h3v1h-3zM110 473h3v1h-3zM200 473h3v1h-3zM206 473h3v1h-3zM212 473h3v1h-3zM218 473h3v1h-3zM249 473h2v1h-2zM254 473h3v1h-3zM260 473h1v1h-1zM74 474h3v1h-3zM116 474h3v1h-3zM122 474h3v1h-3zM128 474h3v1h-3zM134 474h3v1h-3zM140 474h3v1h-3zM146 474h3v1h-3zM152 474h3v1h-3zM158 474h3v1h-3zM164 474h3v1h-3zM170 474h3v1h-3zM176 474h3v1h-3zM182 474h3v1h-3zM188 474h3v1h-3zM194 474h3v1h-3zM261 474h2v1h-2zM266 474h3v1h-3zM272 474h1v1h-1zM273 475h2v1h-2zM278 475h3v1h-3zM284 475h1v1h-1zM69 476h2v1h-2zM285 476h2v1h-2zM290 476h3v1h-3zM296 476h1v1h-1zM68 477h1v1h-1zM297 477h2v1h-2zM302 477h3v1h-3zM63 478h2v1h-2zM308 478h3v1h-3zM62 479h1v1h-1zM314 479h3v1h-3zM58 480h1v1h-1zM320 480h3v1h-3zM326 480h3v1h-3zM56 481h2v1h-2zM332 481h3v1h-3zM338 482h3v1h-3zM51 484h2v1h-2zM344 484h2v1h-2zM50 485h1v1h-1zM346 485h1v1h-1zM350 486h1v1h-1zM46 487h1v1h-1zM351 487h2v1h-2zM903 487h2v1h-2zM908 487h3v1h-3zM44 488h2v1h-2zM356 488h1v1h-1zM902 488h1v1h-1zM357 489h2v1h-2zM896 489h3v1h-3zM40 490h1v1h-1zM362 490h1v1h-1zM878 490h3v1h-3zM884 490h3v1h-3zM890 490h3v1h-3zM39 491h1v1h-1zM363 491h2v1h-2zM830 491h3v1h-3zM836 491h3v1h-3zM842 491h3v1h-3zM848 491h3v1h-3zM861 491h2v1h-2zM866 491h3v1h-3zM872 491h3v1h-3zM38 492h1v1h-1zM368 492h3v1h-3zM818 492h3v1h-3zM824 492h3v1h-3zM854 492h3v1h-3zM860 492h1v1h-1zM374 493h1v1h-1zM812 493h3v1h-3zM375 494h2v1h-2zM806 494h3v1h-3zM33 495h2v1h-2zM800 495h3v1h-3zM32 496h1v1h-1zM380 496h2v1h-2zM795 496h2v1h-2zM382 497h1v1h-1zM794 497h1v1h-1zM386 498h3v1h-3zM789 498h2v1h-2zM27 499h2v1h-2zM392 499h3v1h-3zM788 499h1v1h-1zM26 500h1v1h-1zM398 500h3v1h-3zM784 500h1v1h-1zM404 501h3v1h-3zM782 501h2v1h-2zM410 502h3v1h-3zM416 502h3v1h-3zM422 502h3v1h-3zM428 502h3v1h-3zM434 502h3v1h-3zM440 502h3v1h-3zM446 502h3v1h-3zM452 502h1v1h-1zM22 503h1v1h-1zM453 503h2v1h-2zM458 503h3v1h-3zM778 503h1v1h-1zM21 504h1v1h-1zM464 504h3v1h-3zM776 504h2v1h-2zM20 505h1v1h-1zM470 505h3v1h-3zM476 506h3v1h-3zM770 506h3v1h-3zM482 507h3v1h-3zM16 508h1v1h-1zM488 508h3v1h-3zM561 508h2v1h-2zM566 508h3v1h-3zM572 508h1v1h-1zM764 508h3v1h-3zM14 509h2v1h-2zM494 509h3v1h-3zM500 509h1v1h-1zM548 509h3v1h-3zM554 509h3v1h-3zM560 509h1v1h-1zM573 509h2v1h-2zM578 509h3v1h-3zM584 509h1v1h-1zM759 509h2v1h-2zM501 510h2v1h-2zM506 510h3v1h-3zM512 510h1v1h-1zM536 510h3v1h-3zM542 510h3v1h-3zM585 510h2v1h-2zM590 510h3v1h-3zM596 510h3v1h-3zM758 510h1v1h-1zM513 511h2v1h-2zM518 511h3v1h-3zM524 511h3v1h-3zM530 511h3v1h-3zM602 511h3v1h-3zM608 511h3v1h-3zM754 511h1v1h-1zM9 512h2v1h-2zM614 512h3v1h-3zM620 512h1v1h-1zM752 512h2v1h-2zM8 513h1v1h-1zM621 513h2v1h-2zM626 513h3v1h-3zM632 514h3v1h-3zM638 514h3v1h-3zM746 514h3v1h-3zM644 515h3v1h-3zM650 515h3v1h-3zM656 515h1v1h-1zM657 516h2v1h-2zM662 516h3v1h-3zM668 516h1v1h-1zM740 516h3v1h-3zM669 517h2v1h-2zM674 517h3v1h-3zM735 517h2v1h-2zM680 518h3v1h-3zM734 518h1v1h-1zM686 519h3v1h-3zM692 519h3v1h-3zM698 519h3v1h-3zM704 519h3v1h-3zM710 519h3v1h-3zM716 519h3v1h-3zM722 519h3v1h-3zM728 519h3v1h-3z" fill="#ff0000" shape-rendering="crispEdges"/>
<path d="M15 553h12v1h-12zM197 553h5v1h-5zM11 554h4v1h-4zM27 554h4v1h-4zM37 554h13v1h-13zM159 554h3v1h-3zM191 554h6v1h-6zM202 554h2v1h-2zM8 555h3v1h-3zM31 555h6v1h-6zM50 555h3v1h-3zM119 555h14v1h-14zM155 555h4v1h-4zM162 555h2v1h-2zM189 555h2v1h-2zM204 555h2v1h-2zM223 555h11v1h-11zM53 556h2v1h-2zM117 556h2v1h-2zM133 556h5v1h-5zM152 556h3v1h-3zM164 556h2v1h-2zM186 556h3v1h-3zM206 556h2v1h-2zM219 556h4v1h-4zM234 556h3v1h-3zM279 556h12v1h-12zM55 557h20v1h-20zM114 557h3v1h-3zM138 557h2v1h-2zM150 557h2v1h-2zM166 557h2v1h-2zM184 557h2v1h-2zM208 557h11v1h-11zM237 557h2v1h-2zM277 557h2v1h-2zM291 557h4v1h-4zM904 557h9v1h-9zM75 558h4v1h-4zM109 558h5v1h-5zM140 558h2v1h-2zM148 558h2v1h-2zM168 558h2v1h-2zM182 558h2v1h-2zM239 558h2v1h-2zM274 558h3v1h-3zM295 558h3v1h-3zM902 558h2v1h-2zM79 559h2v1h-2zM103 559h6v1h-6zM142 559h2v1h-2zM146 559h2v1h-2zM170 559h3v1h-3zM180 559h2v1h-2zM241 559h1v1h-1zM269 559h5v1h-5zM298 559h3v1h-3zM901 559h1v1h-1zM81 560h2v1h-2zM101 560h2v1h-2zM144 560h2v1h-2zM173 560h2v1h-2zM178 560h2v1h-2zM242 560h1v1h-1zM263 560h6v1h-6zM301 560h2v1h-2zM759 560h11v1h-11zM869 560h16v1h-16zM899 560h2v1h-2zM83 561h1v1h-1zM98 561h3v1h-3zM175 561h3v1h-3zM243 561h1v1h-1zM259 561h4v1h-4zM303 561h2v1h-2zM755 561h4v1h-4zM770 561h3v1h-3zM824 561h1v1h-1zM863 561h6v1h-6zM885 561h8v1h-8zM897 561h2v1h-2zM84 562h1v1h-1zM95 562h3v1h-3zM244 562h1v1h-1zM256 562h3v1h-3zM305 562h2v1h-2zM741 562h14v1h-14zM773 562h2v1h-2zM822 562h2v1h-2zM825 562h1v1h-1zM861 562h2v1h-2zM893 562h4v1h-4zM85 563h2v1h-2zM93 563h2v1h-2zM245 563h1v1h-1zM254 563h2v1h-2zM307 563h1v1h-1zM735 563h6v1h-6zM775 563h6v1h-6zM820 563h2v1h-2zM826 563h1v1h-1zM858 563h3v1h-3zM87 564h1v1h-1zM90 564h3v1h-3zM246 564h1v1h-1zM252 564h2v1h-2zM308 564h1v1h-1zM733 564h2v1h-2zM781 564h5v1h-5zM818 564h2v1h-2zM827 564h1v1h-1zM855 564h3v1h-3zM88 565h2v1h-2zM247 565h1v1h-1zM250 565h2v1h-2zM309 565h2v1h-2zM730 565h3v1h-3zM786 565h3v1h-3zM816 565h2v1h-2zM828 565h1v2h-1zM851 565h4v1h-4zM248 566h2v1h-2zM311 566h1v1h-1zM728 566h2v1h-2zM789 566h2v1h-2zM814 566h2v1h-2zM847 566h4v1h-4zM312 567h2v1h-2zM511 567h2v1h-2zM727 567h1v1h-1zM791 567h11v1h-11zM813 567h1v1h-1zM829 567h1v1h-1zM843 567h4v1h-4zM314 568h2v1h-2zM391 568h2v1h-2zM509 568h2v1h-2zM513 568h2v1h-2zM725 568h2v1h-2zM802 568h3v1h-3zM811 568h2v1h-2zM830 568h1v1h-1zM839 568h4v1h-4zM316 569h2v1h-2zM387 569h4v1h-4zM393 569h1v1h-1zM413 569h5v1h-5zM506 569h3v1h-3zM515 569h1v1h-1zM724 569h1v1h-1zM805 569h2v1h-2zM809 569h2v1h-2zM831 569h1v1h-1zM835 569h4v1h-4zM318 570h2v1h-2zM381 570h6v1h-6zM394 570h1v1h-1zM408 570h5v1h-5zM418 570h3v1h-3zM504 570h2v1h-2zM516 570h1v1h-1zM723 570h1v1h-1zM807 570h2v1h-2zM832 570h3v1h-3zM320 571h1v1h-1zM375 571h6v1h-6zM395 571h2v1h-2zM406 571h2v1h-2zM421 571h2v1h-2zM439 571h2v1h-2zM502 571h2v1h-2zM517 571h2v1h-2zM560 571h1v1h-1zM721 571h2v1h-2zM321 572h1v1h-1zM371 572h4v1h-4zM397 572h1v1h-1zM405 572h1v1h-1zM423 572h6v1h-6zM435 572h4v1h-4zM441 572h1v1h-1zM501 572h1v1h-1zM519 572h1v1h-1zM559 572h1v1h-1zM561 572h1v1h-1zM637 572h5v1h-5zM720 572h1v1h-1zM322 573h1v1h-1zM360 573h11v1h-11zM398 573h1v1h-1zM403 573h2v1h-2zM429 573h6v1h-6zM442 573h1v1h-1zM499 573h2v1h-2zM520 573h3v1h-3zM558 573h1v1h-1zM562 573h1v1h-1zM632 573h5v1h-5zM642 573h2v1h-2zM718 573h2v1h-2zM323 574h1v1h-1zM358 574h2v1h-2zM399 574h1v1h-1zM401 574h2v1h-2zM443 574h1v1h-1zM497 574h2v1h-2zM523 574h4v1h-4zM541 574h5v1h-5zM557 574h1v1h-1zM563 574h1v1h-1zM631 574h1v2h-1zM644 574h2v1h-2zM703 574h3v1h-3zM717 574h1v1h-1zM324 575h1v1h-1zM356 575h2v1h-2zM400 575h1v1h-1zM444 575h1v2h-1zM495 575h2v1h-2zM527 575h14v1h-14zM546 575h2v1h-2zM555 575h2v1h-2zM564 575h1v1h-1zM646 575h2v1h-2zM653 575h4v1h-4zM699 575h4v1h-4zM706 575h3v1h-3zM715 575h2v1h-2zM325 576h1v1h-1zM354 576h2v1h-2zM491 576h4v1h-4zM548 576h2v1h-2zM554 576h1v1h-1zM565 576h1v1h-1zM584 576h9v1h-9zM630 576h1v1h-1zM648 576h5v1h-5zM657 576h2v1h-2zM695 576h4v1h-4zM709 576h2v1h-2zM713 576h2v1h-2zM326 577h1v1h-1zM343 577h11v1h-11zM445 577h1v1h-1zM485 577h6v1h-6zM550 577h2v1h-2zM553 577h1v1h-1zM566 577h1v1h-1zM583 577h1v1h-1zM593 577h2v1h-2zM629 577h1v1h-1zM659 577h2v1h-2zM693 577h2v1h-2zM711 577h2v1h-2zM327 578h1v1h-1zM341 578h2v1h-2zM446 578h1v1h-1zM480 578h5v1h-5zM552 578h1v1h-1zM567 578h1v1h-1zM581 578h2v1h-2zM595 578h1v1h-1zM628 578h1v2h-1zM661 578h1v1h-1zM690 578h3v1h-3zM328 579h5v1h-5zM338 579h3v1h-3zM447 579h1v1h-1zM479 579h1v1h-1zM568 579h2v1h-2zM580 579h1v1h-1zM596 579h1v1h-1zM607 579h6v1h-6zM662 579h2v1h-2zM688 579h2v1h-2zM333 580h5v1h-5zM448 580h10v1h-10zM477 580h2v1h-2zM570 580h3v1h-3zM579 580h1v1h-1zM597 580h2v1h-2zM605 580h2v1h-2zM613 580h5v1h-5zM627 580h1v1h-1zM664 580h10v1h-10zM686 580h2v1h-2zM458 581h3v1h-3zM476 581h1v1h-1zM573 581h2v1h-2zM577 581h2v1h-2zM599 581h1v1h-1zM602 581h3v1h-3zM618 581h2v1h-2zM626 581h1v1h-1zM674 581h2v1h-2zM685 581h1v1h-1zM461 582h2v1h-2zM475 582h1v1h-1zM575 582h2v1h-2zM600 582h2v1h-2zM620 582h2v1h-2zM625 582h1v2h-1zM676 582h2v1h-2zM683 582h2v1h-2zM463 583h6v1h-6zM473 583h2v1h-2zM622 583h2v1h-2zM678 583h2v1h-2zM681 583h2v1h-2zM469 584h4v1h-4zM624 584h1v1h-1zM680 584h1v1h-1z" fill="#1e90ff" shape-rendering="crispEdges"/>
<path d="M301 129h5v1h-5zM296 130h5v1h-5zM306 130h3v1h-3zM294 131h2v1h-2zM309 131h2v1h-2zM293 132h1v1h-1zM311 132h4v1h-4zM291 133h2v1h-2zM315 133h4v1h-4zM289 134h2v1h-2zM319 134h2v1h-2zM288 135h1v1h-1zM321 135h2v1h-2zM287 136h1v1h-1zM323 136h1v1h-1zM286 137h1v1h-1zM324 137h1v1h-1zM285 138h1v1h-1zM325 138h2v1h-2zM284 139h1v1h-1zM327 139h1v1h-1zM283 140h1v1h-1zM328 140h1v1h-1zM282 141h1v1h-1zM329 141h1v1h-1zM281 142h1v1h-1zM330 142h1v1h-1zM280 143h1v1h-1zM331 143h1v1h-1zM279 144h1v1h-1zM332 144h1v1h-1zM278 145h1v1h-1zM333 145h1v1h-1zM277 146h1v1h-1zM334 146h1v1h-1zM275 147h2v1h-2zM335 147h1v1h-1zM274 148h1v1h-1zM336 148h1v1h-1zM273 149h1v1h-1zM337 149h1v1h-1zM272 150h1v1h-1zM338 150h1v1h-1zM270 151h2v1h-2zM339 151h2v1h-2zM268 152h2v1h-2zM341 152h1v1h-1zM266 153h2v1h-2zM342 153h1v1h-1zM264 154h2v1h-2zM343 154h1v1h-1zM262 155h2v1h-2zM344 155h1v1h-1zM261 156h1v1h-1zM345 156h2v1h-2zM259 157h2v1h-2zM347 157h1v1h-1zM257 158h2v1h-2zM348 158h1v1h-1zM256 159h1v1h-1zM349 159h2v1h-2zM255 160h1v1h-1zM351 160h1v1h-1zM253 161h2v1h-2zM352 161h3v1h-3zM252 162h1v1h-1zM355 162h4v1h-4zM251 163h1v1h-1zM359 163h4v1h-4zM249 164h2v1h-2zM363 164h4v1h-4zM247 165h2v1h-2zM367 165h2v1h-2zM243 166h4v1h-4zM369 166h2v1h-2zM239 167h4v1h-4zM371 167h1v1h-1zM237 168h2v1h-2zM372 168h1v1h-1zM234 169h3v1h-3zM373 169h2v1h-2zM232 170h2v1h-2zM375 170h1v1h-1zM231 171h1v1h-1zM376 171h2v1h-2zM230 172h1v1h-1zM378 172h2v1h-2zM229 173h1v1h-1zM380 173h2v1h-2zM227 174h2v1h-2zM382 174h2v1h-2zM226 175h1v1h-1zM384 175h1v1h-1zM225 176h1v1h-1zM385 176h2v1h-2zM224 177h1v1h-1zM387 177h1v1h-1zM223 178h1v1h-1zM388 178h1v1h-1zM222 179h1v1h-1zM389 179h2v1h-2zM221 180h1v1h-1zM391 180h1v1h-1zM219 181h2v1h-2zM392 181h1v1h-1zM218 182h1v1h-1zM393 182h1v1h-1zM217 183h1v1h-1zM394 183h1v1h-1zM216 184h1v1h-1zM395 184h1v1h-1zM215 185h1v1h-1zM396 185h1v2h-1zM213 186h2v1h-2zM212 187h1v1h-1zM397 187h1v1h-1zM211 188h1v1h-1zM398 188h1v1h-1zM209 189h2v1h-2zM399 189h1v1h-1zM208 190h1v1h-1zM400 190h1v1h-1zM207 191h1v2h-1zM401 191h2v1h-2zM403 192h1v1h-1zM206 193h1v1h-1zM404 193h1v1h-1zM205 194h1v2h-1zM405 194h2v1h-2zM407 195h1v1h-1zM204 196h1v1h-1zM408 196h2v1h-2zM203 197h1v2h-1zM410 197h2v1h-2zM412 198h2v1h-2zM912 198h1v1h-1zM202 199h1v1h-1zM414 199h2v1h-2zM911 199h1v1h-1zM201 200h1v2h-1zM416 200h2v1h-2zM910 200h1v1h-1zM418 201h3v1h-3zM909 201h1v1h-1zM200 202h1v1h-1zM421 202h2v1h-2zM907 202h2v1h-2zM199 203h1v2h-1zM423 203h4v1h-4zM445 203h5v1h-5zM906 203h1v1h-1zM427 204h4v1h-4zM437 204h8v1h-8zM450 204h3v1h-3zM905 204h1v1h-1zM198 205h1v2h-1zM431 205h6v1h-6zM453 205h2v1h-2zM904 205h1v1h-1zM455 206h3v1h-3zM903 206h1v1h-1zM197 207h1v1h-1zM458 207h2v1h-2zM902 207h1v1h-1zM196 208h1v2h-1zM460 208h2v1h-2zM901 208h1v1h-1zM462 209h2v1h-2zM899 209h2v1h-2zM195 210h1v1h-1zM464 210h2v1h-2zM898 210h1v1h-1zM194 211h1v2h-1zM466 211h2v1h-2zM897 211h1v1h-1zM468 212h2v1h-2zM895 212h2v1h-2zM193 213h1v2h-1zM470 213h2v1h-2zM893 213h2v1h-2zM472 214h2v1h-2zM890 214h3v1h-3zM192 215h1v1h-1zM474 215h2v1h-2zM888 215h2v1h-2zM191 216h1v1h-1zM476 216h2v1h-2zM886 216h2v1h-2zM190 217h1v2h-1zM478 217h2v1h-2zM884 217h2v1h-2zM480 218h1v1h-1zM882 218h2v1h-2zM189 219h1v1h-1zM481 219h2v1h-2zM879 219h3v1h-3zM188 220h1v1h-1zM483 220h2v1h-2zM875 220h4v1h-4zM187 221h1v1h-1zM485 221h1v1h-1zM871 221h4v1h-4zM186 222h1v2h-1zM486 222h2v1h-2zM867 222h4v1h-4zM488 223h2v1h-2zM864 223h3v1h-3zM185 224h1v1h-1zM490 224h3v1h-3zM862 224h2v1h-2zM184 225h1v1h-1zM493 225h2v1h-2zM860 225h2v1h-2zM183 226h1v1h-1zM495 226h3v1h-3zM858 226h2v1h-2zM181 227h2v1h-2zM498 227h2v1h-2zM853 227h5v1h-5zM180 228h1v1h-1zM500 228h2v1h-2zM840 228h13v1h-13zM179 229h1v1h-1zM502 229h2v1h-2zM509 229h5v1h-5zM838 229h2v1h-2zM177 230h2v1h-2zM504 230h5v1h-5zM514 230h3v1h-3zM836 230h2v1h-2zM175 231h2v1h-2zM517 231h2v1h-2zM834 231h2v1h-2zM173 232h2v1h-2zM519 232h3v1h-3zM831 232h3v1h-3zM170 233h3v1h-3zM522 233h2v1h-2zM829 233h2v1h-2zM168 234h2v1h-2zM524 234h2v1h-2zM826 234h3v1h-3zM167 235h1v1h-1zM526 235h2v1h-2zM824 235h2v1h-2zM165 236h2v1h-2zM528 236h2v1h-2zM823 236h1v2h-1zM164 237h1v1h-1zM530 237h2v1h-2zM163 238h1v1h-1zM532 238h2v1h-2zM822 238h1v2h-1zM161 239h2v1h-2zM534 239h2v1h-2zM160 240h1v1h-1zM536 240h2v1h-2zM821 240h1v2h-1zM158 241h2v1h-2zM538 241h2v1h-2zM157 242h1v1h-1zM540 242h2v1h-2zM820 242h1v1h-1zM155 243h2v1h-2zM542 243h2v1h-2zM819 243h1v2h-1zM153 244h2v1h-2zM544 244h2v1h-2zM151 245h2v1h-2zM546 245h3v1h-3zM818 245h1v2h-1zM149 246h2v1h-2zM549 246h2v1h-2zM146 247h3v1h-3zM551 247h19v1h-19zM817 247h1v2h-1zM143 248h3v1h-3zM570 248h3v1h-3zM139 249h4v1h-4zM573 249h2v1h-2zM816 249h1v1h-1zM135 250h4v1h-4zM575 250h14v1h-14zM814 250h2v1h-2zM133 251h2v1h-2zM589 251h4v1h-4zM813 251h1v1h-1zM130 252h3v1h-3zM593 252h2v1h-2zM811 252h2v1h-2zM127 253h3v1h-3zM595 253h1v1h-1zM809 253h2v1h-2zM123 254h4v1h-4zM596 254h1v1h-1zM808 254h1v1h-1zM120 255h3v1h-3zM597 255h2v1h-2zM807 255h1v1h-1zM118 256h2v1h-2zM599 256h1v1h-1zM805 256h2v1h-2zM117 257h1v1h-1zM600 257h1v1h-1zM804 257h1v1h-1zM115 258h2v1h-2zM601 258h2v1h-2zM803 258h1v1h-1zM113 259h2v1h-2zM603 259h1v1h-1zM801 259h2v1h-2zM112 260h1v1h-1zM604 260h1v1h-1zM800 260h1v1h-1zM111 261h1v1h-1zM605 261h2v1h-2zM799 261h1v1h-1zM110 262h1v1h-1zM607 262h1v1h-1zM798 262h1v1h-1zM109 263h1v1h-1zM608 263h1v1h-1zM797 263h1v1h-1zM108 264h1v1h-1zM609 264h1v1h-1zM796 264h1v2h-1zM107 265h1v1h-1zM610 265h1v1h-1zM106 266h1v1h-1zM611 266h2v1h-2zM795 266h1v1h-1zM105 267h1v1h-1zM613 267h1v1h-1zM794 267h1v1h-1zM104 268h1v1h-1zM614 268h1v1h-1zM793 268h1v1h-1zM103 269h1v1h-1zM615 269h1v1h-1zM792 269h1v1h-1zM101 270h2v1h-2zM616 270h1v1h-1zM791 270h1v2h-1zM100 271h1v1h-1zM617 271h1v2h-1zM99 272h1v1h-1zM790 272h1v1h-1zM97 273h2v1h-2zM618 273h1v1h-1zM789 273h1v1h-1zM96 274h1v1h-1zM619 274h1v1h-1zM788 274h1v2h-1zM95 275h1v1h-1zM620 275h1v2h-1zM93 276h2v1h-2zM787 276h1v1h-1zM92 277h1v1h-1zM621 277h1v1h-1zM786 277h1v1h-1zM91 278h1v1h-1zM622 278h1v1h-1zM785 278h1v2h-1zM89 279h2v1h-2zM623 279h1v2h-1zM88 280h1v1h-1zM784 280h1v1h-1zM87 281h1v1h-1zM624 281h2v1h-2zM783 281h1v1h-1zM85 282h2v1h-2zM626 282h2v1h-2zM782 282h1v1h-1zM84 283h1v1h-1zM628 283h2v1h-2zM781 283h1v1h-1zM83 284h1v1h-1zM630 284h2v1h-2zM780 284h1v2h-1zM81 285h2v1h-2zM632 285h1v1h-1zM80 286h1v1h-1zM633 286h2v1h-2zM779 286h1v1h-1zM79 287h1v2h-1zM635 287h2v1h-2zM778 287h1v1h-1zM637 288h1v1h-1zM777 288h1v1h-1zM78 289h1v1h-1zM638 289h2v1h-2zM776 289h1v1h-1zM77 290h1v2h-1zM640 290h2v1h-2zM775 290h1v1h-1zM642 291h2v1h-2zM774 291h1v2h-1zM76 292h1v1h-1zM644 292h2v1h-2zM75 293h1v2h-1zM646 293h2v1h-2zM773 293h1v1h-1zM648 294h1v1h-1zM772 294h1v1h-1zM74 295h1v1h-1zM649 295h2v1h-2zM771 295h1v1h-1zM73 296h1v2h-1zM651 296h2v1h-2zM770 296h1v2h-1zM653 297h1v1h-1zM72 298h1v2h-1zM654 298h2v1h-2zM769 298h1v1h-1zM656 299h1v1h-1zM768 299h1v1h-1zM71 300h1v2h-1zM657 300h2v1h-2zM767 300h1v1h-1zM659 301h1v1h-1zM766 301h1v1h-1zM70 302h1v2h-1zM660 302h1v1h-1zM765 302h1v1h-1zM661 303h2v1h-2zM764 303h1v2h-1zM69 304h1v2h-1zM663 304h1v1h-1zM664 305h1v1h-1zM763 305h1v1h-1zM68 306h1v2h-1zM665 306h1v1h-1zM762 306h1v1h-1zM666 307h1v1h-1zM761 307h1v1h-1zM67 308h1v2h-1zM667 308h1v1h-1zM760 308h1v1h-1zM668 309h1v2h-1zM759 309h1v1h-1zM66 310h1v2h-1zM758 310h1v1h-1zM669 311h1v1h-1zM757 311h1v1h-1zM65 312h1v2h-1zM670 312h1v1h-1zM755 312h2v1h-2zM671 313h1v1h-1zM754 313h1v1h-1zM64 314h1v2h-1zM672 314h1v1h-1zM753 314h1v1h-1zM673 315h1v1h-1zM752 315h1v1h-1zM63 316h1v2h-1zM674 316h1v1h-1zM750 316h2v1h-2zM675 317h1v1h-1zM748 317h2v1h-2zM62 318h1v2h-1zM676 318h1v2h-1zM746 318h2v1h-2zM744 319h2v1h-2zM61 320h1v2h-1zM677 320h1v1h-1zM743 320h1v1h-1zM678 321h1v1h-1zM741 321h2v1h-2zM60 322h1v1h-1zM679 322h1v1h-1zM740 322h1v1h-1zM59 323h1v2h-1zM680 323h2v1h-2zM739 323h1v1h-1zM682 324h2v1h-2zM737 324h2v1h-2zM58 325h1v2h-1zM684 325h2v1h-2zM736 325h1v1h-1zM686 326h2v1h-2zM735 326h1v1h-1zM57 327h1v2h-1zM688 327h2v1h-2zM734 327h1v1h-1zM690 328h3v1h-3zM733 328h1v1h-1zM56 329h1v2h-1zM693 329h2v1h-2zM732 329h1v1h-1zM695 330h2v1h-2zM731 330h1v1h-1zM55 331h1v3h-1zM697 331h2v1h-2zM730 331h1v1h-1zM699 332h2v1h-2zM729 332h1v1h-1zM701 333h1v1h-1zM728 333h1v1h-1zM54 334h1v3h-1zM702 334h2v1h-2zM726 334h2v1h-2zM704 335h3v1h-3zM724 335h2v1h-2zM707 336h4v1h-4zM722 336h2v1h-2zM53 337h1v3h-1zM711 337h11v1h-11zM52 340h1v2h-1zM51 342h1v3h-1zM50 345h1v3h-1zM49 348h1v3h-1zM48 351h1v3h-1zM47 354h1v4h-1zM46 358h1v3h-1zM45 361h1v3h-1zM44 364h1v4h-1zM43 368h1v3h-1zM42 371h1v3h-1zM41 374h1v4h-1zM40 378h1v3h-1zM39 381h1v2h-1zM38 383h1v3h-1zM37 386h1v3h-1zM36 389h1v2h-1zM35 391h1v3h-1zM34 394h1v3h-1zM33 397h1v2h-1zM32 399h1v3h-1zM31 402h1v2h-1zM30 404h1v2h-1zM29 406h1v3h-1zM28 409h1v2h-1zM27 411h1v3h-1zM26 414h1v2h-1zM25 416h1v2h-1zM24 418h1v3h-1zM23 421h1v2h-1zM22 423h1v2h-1zM21 425h1v2h-1zM20 427h1v2h-1zM19 429h1v2h-1zM18 431h1v2h-1zM17 433h1v2h-1zM16 435h1v3h-1zM15 438h1v3h-1zM14 441h1v2h-1zM13 443h1v3h-1zM12 446h1v3h-1zM11 449h1v3h-1zM10 452h1v2h-1zM9 454h1v3h-1zM8 457h1v2h-1z" fill="#ff0000" shape-rendering="crispEdges"/>
<path d="M316 144h4v1h-4zM312 145h4v1h-4zM320 145h4v1h-4zM310 146h2v1h-2zM324 146h3v1h-3zM308 147h2v1h-2zM327 147h4v1h-4zM306 148h2v1h-2zM331 148h4v1h-4zM304 149h2v1h-2zM335 149h6v1h-6zM302 150h2v1h-2zM341 150h5v1h-5zM300 151h2v1h-2zM346 151h2v1h-2zM298 152h2v1h-2zM348 152h2v1h-2zM296 153h2v1h-2zM350 153h2v1h-2zM294 154h2v1h-2zM352 154h3v1h-3zM292 155h2v1h-2zM355 155h4v1h-4zM290 156h2v1h-2zM359 156h3v1h-3zM288 157h2v1h-2zM362 157h2v1h-2zM286 158h2v1h-2zM364 158h2v1h-2zM285 159h1v1h-1zM366 159h2v1h-2zM283 160h2v1h-2zM368 160h3v1h-3zM281 161h2v1h-2zM371 161h4v1h-4zM280 162h1v1h-1zM375 162h4v1h-4zM279 163h1v1h-1zM379 163h4v1h-4zM278 164h1v1h-1zM383 164h4v1h-4zM277 165h1v1h-1zM387 165h4v1h-4zM275 166h2v1h-2zM391 166h3v1h-3zM274 167h1v1h-1zM394 167h2v1h-2zM273 168h1v1h-1zM396 168h2v1h-2zM272 169h1v1h-1zM398 169h2v1h-2zM271 170h1v1h-1zM400 170h2v1h-2zM269 171h2v1h-2zM402 171h3v1h-3zM268 172h1v1h-1zM405 172h2v1h-2zM413 172h6v1h-6zM267 173h1v1h-1zM407 173h6v1h-6zM419 173h4v1h-4zM265 174h2v1h-2zM423 174h3v1h-3zM264 175h1v1h-1zM426 175h2v1h-2zM263 176h1v1h-1zM428 176h2v1h-2zM262 177h1v1h-1zM430 177h2v1h-2zM261 178h1v1h-1zM432 178h2v1h-2zM260 179h1v1h-1zM434 179h3v1h-3zM259 180h1v1h-1zM437 180h2v1h-2zM258 181h1v1h-1zM439 181h2v1h-2zM257 182h1v1h-1zM441 182h1v1h-1zM256 183h1v1h-1zM442 183h1v1h-1zM255 184h1v1h-1zM443 184h2v1h-2zM254 185h1v1h-1zM445 185h1v1h-1zM253 186h1v1h-1zM446 186h1v1h-1zM252 187h1v1h-1zM447 187h1v1h-1zM251 188h1v1h-1zM448 188h1v1h-1zM250 189h1v1h-1zM449 189h1v1h-1zM249 190h1v1h-1zM450 190h1v1h-1zM248 191h1v1h-1zM451 191h1v1h-1zM246 192h2v1h-2zM452 192h1v2h-1zM244 193h2v1h-2zM242 194h2v1h-2zM453 194h1v1h-1zM240 195h2v1h-2zM454 195h1v1h-1zM238 196h2v1h-2zM455 196h1v1h-1zM237 197h1v1h-1zM456 197h1v1h-1zM235 198h2v1h-2zM457 198h1v1h-1zM233 199h2v1h-2zM458 199h1v1h-1zM232 200h1v1h-1zM459 200h1v1h-1zM231 201h1v1h-1zM460 201h1v1h-1zM230 202h1v1h-1zM461 202h1v1h-1zM229 203h1v1h-1zM462 203h1v1h-1zM227 204h2v1h-2zM463 204h1v1h-1zM226 205h1v1h-1zM464 205h1v1h-1zM225 206h1v1h-1zM465 206h1v1h-1zM912 206h1v1h-1zM224 207h1v1h-1zM466 207h1v1h-1zM910 207h2v1h-2zM223 208h1v1h-1zM467 208h1v1h-1zM908 208h2v1h-2zM222 209h1v1h-1zM468 209h1v1h-1zM906 209h2v1h-2zM221 210h1v1h-1zM469 210h1v1h-1zM904 210h2v1h-2zM219 211h2v1h-2zM470 211h1v1h-1zM902 211h2v1h-2zM218 212h1v1h-1zM471 212h1v1h-1zM900 212h2v1h-2zM217 213h1v1h-1zM472 213h1v1h-1zM898 213h2v1h-2zM215 214h2v1h-2zM473 214h2v1h-2zM896 214h2v1h-2zM213 215h2v1h-2zM475 215h2v1h-2zM894 215h2v1h-2zM210 216h3v1h-3zM477 216h1v1h-1zM892 216h2v1h-2zM208 217h2v1h-2zM478 217h2v1h-2zM890 217h2v1h-2zM206 218h2v1h-2zM480 218h3v1h-3zM888 218h2v1h-2zM205 219h1v1h-1zM483 219h4v1h-4zM511 219h11v1h-11zM887 219h1v1h-1zM203 220h2v1h-2zM487 220h4v1h-4zM507 220h4v1h-4zM522 220h3v1h-3zM886 220h1v1h-1zM201 221h2v1h-2zM491 221h4v1h-4zM501 221h6v1h-6zM525 221h2v1h-2zM885 221h1v1h-1zM200 222h1v1h-1zM495 222h6v1h-6zM527 222h4v1h-4zM883 222h2v1h-2zM199 223h1v1h-1zM531 223h4v1h-4zM882 223h1v1h-1zM198 224h1v1h-1zM535 224h6v1h-6zM881 224h1v1h-1zM197 225h1v1h-1zM541 225h4v1h-4zM880 225h1v1h-1zM195 226h2v1h-2zM545 226h2v1h-2zM879 226h1v1h-1zM194 227h1v1h-1zM547 227h2v1h-2zM878 227h1v2h-1zM193 228h1v1h-1zM549 228h1v1h-1zM192 229h1v1h-1zM550 229h2v1h-2zM877 229h1v1h-1zM191 230h1v1h-1zM552 230h3v1h-3zM876 230h1v1h-1zM189 231h2v1h-2zM555 231h4v1h-4zM875 231h1v1h-1zM188 232h1v1h-1zM559 232h3v1h-3zM874 232h1v1h-1zM187 233h1v1h-1zM562 233h2v1h-2zM873 233h1v1h-1zM185 234h2v1h-2zM564 234h2v1h-2zM872 234h1v1h-1zM183 235h2v1h-2zM566 235h2v1h-2zM871 235h1v1h-1zM181 236h2v1h-2zM568 236h1v1h-1zM870 236h1v1h-1zM178 237h3v1h-3zM569 237h2v1h-2zM869 237h1v1h-1zM176 238h2v1h-2zM571 238h1v1h-1zM867 238h2v1h-2zM174 239h2v1h-2zM572 239h1v1h-1zM866 239h1v1h-1zM172 240h2v1h-2zM573 240h2v1h-2zM865 240h1v1h-1zM170 241h2v1h-2zM575 241h1v1h-1zM864 241h1v1h-1zM168 242h2v1h-2zM576 242h2v1h-2zM863 242h1v1h-1zM167 243h1v1h-1zM578 243h2v1h-2zM862 243h1v1h-1zM165 244h2v1h-2zM580 244h2v1h-2zM861 244h1v1h-1zM164 245h1v1h-1zM582 245h2v1h-2zM860 245h1v2h-1zM163 246h1v1h-1zM584 246h2v1h-2zM161 247h2v1h-2zM586 247h2v1h-2zM859 247h1v1h-1zM160 248h1v1h-1zM588 248h2v1h-2zM858 248h1v1h-1zM159 249h1v1h-1zM590 249h2v1h-2zM857 249h1v1h-1zM158 250h1v1h-1zM592 250h1v1h-1zM856 250h1v1h-1zM157 251h1v1h-1zM593 251h2v1h-2zM855 251h1v1h-1zM156 252h1v1h-1zM595 252h1v1h-1zM854 252h1v1h-1zM155 253h1v1h-1zM596 253h1v1h-1zM853 253h1v1h-1zM154 254h1v1h-1zM597 254h2v1h-2zM852 254h1v1h-1zM153 255h1v1h-1zM599 255h1v1h-1zM851 255h1v1h-1zM152 256h1v1h-1zM600 256h1v1h-1zM850 256h1v1h-1zM151 257h1v1h-1zM601 257h2v1h-2zM849 257h1v1h-1zM150 258h1v1h-1zM603 258h1v1h-1zM848 258h1v1h-1zM149 259h1v1h-1zM604 259h1v1h-1zM847 259h1v1h-1zM148 260h1v2h-1zM605 260h2v1h-2zM846 260h1v1h-1zM607 261h1v1h-1zM845 261h1v1h-1zM147 262h1v1h-1zM608 262h2v1h-2zM844 262h1v1h-1zM146 263h1v1h-1zM610 263h3v1h-3zM843 263h1v1h-1zM145 264h1v1h-1zM613 264h2v1h-2zM842 264h1v1h-1zM144 265h1v1h-1zM615 265h2v1h-2zM841 265h1v1h-1zM143 266h1v1h-1zM617 266h2v1h-2zM840 266h1v1h-1zM142 267h1v1h-1zM619 267h2v1h-2zM839 267h1v1h-1zM141 268h1v1h-1zM621 268h1v1h-1zM838 268h1v1h-1zM140 269h1v1h-1zM622 269h2v1h-2zM837 269h1v1h-1zM139 270h1v1h-1zM624 270h18v1h-18zM835 270h2v1h-2zM138 271h1v1h-1zM642 271h3v1h-3zM834 271h1v1h-1zM137 272h1v1h-1zM645 272h2v1h-2zM833 272h1v1h-1zM136 273h1v1h-1zM647 273h3v1h-3zM832 273h1v1h-1zM135 274h1v1h-1zM650 274h3v1h-3zM830 274h2v1h-2zM134 275h1v2h-1zM653 275h2v1h-2zM828 275h2v1h-2zM655 276h2v1h-2zM826 276h2v1h-2zM133 277h1v1h-1zM657 277h2v1h-2zM824 277h2v1h-2zM132 278h1v1h-1zM659 278h1v1h-1zM822 278h2v1h-2zM131 279h1v1h-1zM660 279h1v1h-1zM820 279h2v1h-2zM130 280h1v2h-1zM661 280h2v1h-2zM818 280h2v1h-2zM663 281h1v1h-1zM816 281h2v1h-2zM129 282h1v1h-1zM664 282h1v1h-1zM814 282h2v1h-2zM128 283h1v1h-1zM665 283h1v1h-1zM812 283h2v1h-2zM127 284h1v2h-1zM666 284h1v1h-1zM810 284h2v1h-2zM667 285h2v1h-2zM807 285h3v1h-3zM126 286h1v1h-1zM669 286h1v1h-1zM803 286h4v1h-4zM125 287h1v2h-1zM670 287h1v1h-1zM799 287h4v1h-4zM671 288h1v1h-1zM795 288h4v1h-4zM124 289h1v1h-1zM672 289h1v1h-1zM792 289h3v1h-3zM123 290h1v2h-1zM673 290h1v1h-1zM791 290h1v1h-1zM674 291h1v1h-1zM789 291h2v1h-2zM122 292h1v1h-1zM675 292h1v1h-1zM788 292h1v1h-1zM121 293h1v2h-1zM676 293h1v2h-1zM787 293h1v1h-1zM785 294h2v1h-2zM120 295h1v1h-1zM677 295h1v1h-1zM784 295h1v1h-1zM119 296h1v2h-1zM678 296h1v1h-1zM782 296h2v1h-2zM679 297h1v1h-1zM780 297h2v1h-2zM118 298h1v2h-1zM680 298h1v1h-1zM778 298h2v1h-2zM681 299h1v1h-1zM776 299h2v1h-2zM117 300h1v2h-1zM682 300h1v1h-1zM774 300h2v1h-2zM683 301h2v1h-2zM773 301h1v1h-1zM116 302h1v2h-1zM685 302h1v1h-1zM771 302h2v1h-2zM686 303h1v1h-1zM769 303h2v1h-2zM115 304h1v2h-1zM687 304h1v1h-1zM768 304h1v1h-1zM688 305h2v1h-2zM767 305h1v1h-1zM114 306h1v2h-1zM690 306h2v1h-2zM765 306h2v1h-2zM692 307h2v1h-2zM764 307h1v1h-1zM113 308h1v2h-1zM694 308h2v1h-2zM763 308h1v1h-1zM696 309h2v1h-2zM761 309h2v1h-2zM112 310h1v2h-1zM698 310h2v1h-2zM760 310h1v1h-1zM700 311h2v1h-2zM758 311h2v1h-2zM111 312h1v2h-1zM702 312h2v1h-2zM756 312h2v1h-2zM704 313h1v1h-1zM754 313h2v1h-2zM110 314h1v2h-1zM705 314h2v1h-2zM751 314h3v1h-3zM707 315h1v1h-1zM747 315h4v1h-4zM109 316h1v2h-1zM708 316h1v1h-1zM744 316h3v1h-3zM709 317h2v1h-2zM742 317h2v1h-2zM108 318h1v2h-1zM711 318h1v1h-1zM741 318h1v1h-1zM712 319h3v1h-3zM739 319h2v1h-2zM107 320h1v2h-1zM715 320h4v1h-4zM737 320h2v1h-2zM719 321h4v1h-4zM735 321h2v1h-2zM106 322h1v2h-1zM723 322h4v1h-4zM731 322h4v1h-4zM727 323h4v1h-4zM105 324h1v2h-1zM104 326h1v2h-1zM103 328h1v2h-1zM102 330h1v2h-1zM101 332h1v2h-1zM100 334h1v1h-1zM99 335h1v2h-1zM98 337h1v2h-1zM97 339h1v2h-1zM96 341h1v1h-1zM95 342h1v2h-1zM94 344h1v2h-1zM93 346h1v2h-1zM92 348h1v1h-1zM91 349h1v2h-1zM90 351h1v2h-1zM89 353h1v2h-1zM88 355h1v1h-1zM87 356h1v1h-1zM86 357h1v2h-1zM85 359h1v1h-1zM84 360h1v1h-1zM83 361h1v1h-1zM82 362h1v2h-1zM81 364h1v1h-1zM80 365h1v1h-1zM79 366h1v2h-1zM78 368h1v1h-1zM77 369h1v2h-1zM76 371h1v1h-1zM75 372h1v2h-1zM74 374h1v1h-1zM73 375h1v2h-1zM72 377h1v1h-1zM71 378h1v2h-1zM70 380h1v2h-1zM69 382h1v2h-1zM68 384h1v1h-1zM67 385h1v2h-1zM66 387h1v2h-1zM65 389h1v2h-1zM64 391h1v1h-1zM63 392h1v2h-1zM62 394h1v2h-1zM61 396h1v1h-1zM60 397h1v2h-1zM59 399h1v1h-1zM58 400h1v2h-1zM57 402h1v2h-1zM56 404h1v1h-1zM55 405h1v1h-1zM54 406h1v2h-1zM53 408h1v1h-1zM52 409h1v1h-1zM51 410h1v1h-1zM50 411h1v2h-1zM49 413h1v1h-1zM48 414h1v1h-1zM47 415h1v2h-1zM46 417h1v2h-1zM45 419h1v1h-1zM44 420h1v2h-1zM43 422h1v1h-1zM42 423h1v2h-1zM41 425h1v2h-1zM40 427h1v1h-1zM39 428h1v2h-1zM38 430h1v1h-1zM37 431h1v1h-1zM36 432h1v2h-1zM35 434h1v1h-1zM34 435h1v1h-1zM33 436h1v2h-1zM32 438h1v1h-1zM31 439h1v1h-1zM30 440h1v2h-1zM29 442h1v1h-1zM28 443h1v1h-1zM27 444h1v1h-1zM26 445h1v2h-1zM25 447h1v1h-1zM24 448h1v1h-1zM23 449h1v1h-1zM22 450h1v1h-1zM21 451h1v1h-1zM20 452h1v1h-1zM19 453h1v1h-1zM18 454h1v1h-1zM17 455h1v1h-1zM16 456h1v1h-1zM15 457h1v1h-1zM14 458h1v1h-1zM13 459h1v1h-1zM11 460h2v1h-2zM10 461h1v1h-1zM9 462h1v1h-1zM8 463h1v1h-1z" fill="#0000ff" shape-rendering="crispEdges"/>
<g shape-rendering="crispEdges"><rect x="8" y="277" width="1" height="64" fill="#ff0000"/><rect x="8" y="281" width="3" height="48" fill="#ff0000"/><rect x="8" y="282" width="2" height="46" fill="#ff4500"/><rect x="16" y="249" width="1" height="36" fill="#ff0000"/><rect x="14" y="250" width="5" height="32" fill="#ff0000"/><rect x="15" y="251" width="3" height="30" fill="#ff4500"/><rect x="24" y="222" width="1" height="44" fill="#32cd32"/><rect x="22" y="250" width="5" height="3" fill="#32cd32"/><rect x="32" y="249" width="1" height="14" fill="#32cd32"/><rect x="30" y="252" width="5" height="11" fill="#32cd32"/><rect x="40" y="232" width="1" height="37" fill="#ff0000"/><rect x="38" y="243" width="5" height="17" fill="#ff0000"/><rect x="39" y="244" width="3" height="15" fill="#ff4500"/><rect x="48" y="221" width="1" height="37" fill="#32cd32"/><rect x="46" y="244" width="5" height="5" fill="#32cd32"/><rect x="56" y="242" width="1" height="38" fill="#32cd32"/><rect x="54" y="248" width="5" height="19" fill="#32cd32"/><rect x="64" y="253" width="1" height="65" fill="#ff0000"/><rect x="62" y="256" width="5" height="11" fill="#ff0000"/><rect x="63" y="257" width="3" height="9" fill="#ff4500"/><rect x="72" y="246" width="1" height="47" fill="#32cd32"/><rect x="70" y="256" width="5" height="4" fill="#32cd32"/><rect x="80" y="257" width="1" height="13" fill="#32cd32"/><rect x="78" y="259" width="5" height="10" fill="#32cd32"/><rect x="88" y="263" width="1" height="63" fill="#32cd32"/><rect x="86" y="264" width="5" height="43" fill="#32cd32"/><rect x="96" y="266" width="1" height="49" fill="#ff0000"/><rect x="94" y="281" width="5" height="25" fill="#ff0000"/><rect x="95" y="282" width="3" height="23" fill="#ff4500"/><rect x="104" y="237" width="1" height="45" fill="#ff0000"/><rect x="102" y="249" width="5" height="33" fill="#ff0000"/><rect x="103" y="250" width="3" height="31" fill="#ff4500"/><rect x="112" y="203" width="1" height="54" fill="#ff0000"/><rect x="110" y="235" width="5" height="15" fill="#ff0000"/><rect x="111" y="236" width="3" height="13" fill="#ff4500"/><rect x="120" y="201" width="1" height="41" fill="#ff0000"/><rect x="118" y="208" width="5" height="28" fill="#ff0000"/><rect x="119" y="209" width="3" height="26" fill="#ff4500"/><rect x="128" y="200" width="1" height="16" fill="#ff0000"/><rect x="126" y="206" width="5" height="3" fill="#ff0000"/><rect x="127" y="207" width="3" height="1" fill="#ff4500"/><rect x="136" y="198" width="1" height="39" fill="#ff0000"/><rect x="134" y="213" width="5" height="1" fill="#ff0000"/><rect x="144" y="203" width="1" height="34" fill="#32cd32"/><rect x="142" y="213" width="5" height="21" fill="#32cd32"/><rect x="152" y="189" width="1" height="50" fill="#ff0000"/><rect x="150" y="196" width="5" height="38" fill="#ff0000"/><rect x="151" y="197" width="3" height="36" fill="#ff4500"/><rect x="160" y="161" width="1" height="62" fill="#ff0000"/><rect x="158" y="170" width="5" height="27" fill="#ff0000"/><rect x="159" y="171" width="3" height="25" fill="#ff4500"/><rect x="168" y="153" width="1" height="56" fill="#32cd32"/><rect x="166" y="170" width="5" height="29" fill="#32cd32"/><rect x="176" y="190" width="1" height="20" fill="#32cd32"/><rect x="174" y="198" width="5" height="10" fill="#32cd32"/><rect x="184" y="169" width="1" height="39" fill="#ff0000"/><rect x="182" y="172" width="5" height="36" fill="#ff0000"/><rect x="183" y="173" width="3" height="34" fill="#ff4500"/><rect x="192" y="129" width="1" height="49" fill="#ff0000"/><rect x="190" y="134" width="5" height="38" fill="#ff0000"/><rect x="191" y="135" width="3" height="36" fill="#ff4500"/><rect x="200" y="105" width="1" height="42" fill="#ff0000"/><rect x="198" y="123" width="5" height="11" fill="#ff0000"/><rect x="199" y="124" width="3" height="9" fill="#ff4500"/><rect x="208" y="87" width="1" height="92" fill="#32cd32"/><rect x="206" y="122" width="5" height="24" fill="#32cd32"/><rect x="216" y="140" width="1" height="70" fill="#ff0000"/><rect x="214" y="144" width="5" height="4" fill="#ff0000"/><rect x="215" y="145" width="3" height="2" fill="#ff4500"/><rect x="224" y="131" width="1" height="24" fill="#ff0000"/><rect x="222" y="132" width="5" height="13" fill="#ff0000"/><rect x="223" y="133" width="3" height="11" fill="#ff4500"/><rect x="232" y="112" width="1" height="45" fill="#ff0000"/><rect x="230" y="128" width="5" height="29" fill="#ff0000"/><rect x="231" y="129" width="3" height="27" fill="#ff4500"/><rect x="240" y="124" width="1" height="34" fill="#32cd32"/><rect x="238" y="127" width="5" height="15" fill="#32cd32"/><rect x="248" y="129" width="1" height="96" fill="#32cd32"/><rect x="246" y="141" width="5" height="44" fill="#32cd32"/><rect x="256" y="144" width="1" height="46" fill="#ff0000"/><rect x="254" y="153" width="5" height="32" fill="#ff0000"/><rect x="255" y="154" width="3" height="30" fill="#ff4500"/><rect x="264" y="96" width="1" height="58" fill="#ff0000"/><rect x="262" y="131" width="5" height="23" fill="#ff0000"/><rect x="263" y="132" width="3" height="21" fill="#ff4500"/><rect x="272" y="111" width="1" height="25" fill="#ff0000"/><rect x="270" y="124" width="5" height="8" fill="#ff0000"/><rect x="271" y="125" width="3" height="6" fill="#ff4500"/><rect x="280" y="76" width="1" height="52" fill="#ff0000"/><rect x="278" y="91" width="5" height="36" fill="#ff0000"/><rect x="279" y="92" width="3" height="34" fill="#ff4500"/><rect x="288" y="54" width="1" height="49" fill="#32cd32"/><rect x="286" y="91" width="5" height="3" fill="#32cd32"/><rect x="296" y="78" width="1" height="45" fill="#32cd32"/><rect x="294" y="93" width="5" height="11" fill="#32cd32"/><rect x="304" y="97" width="1" height="48" fill="#32cd32"/><rect x="302" y="103" width="5" height="18" fill="#32cd32"/><rect x="312" y="94" width="1" height="78" fill="#32cd32"/><rect x="310" y="118" width="5" height="37" fill="#32cd32"/><rect x="320" y="151" width="1" height="37" fill="#32cd32"/><rect x="318" y="153" width="5" height="29" fill="#32cd32"/><rect x="328" y="171" width="1" height="78" fill="#32cd32"/><rect x="326" y="188" width="5" height="49" fill="#32cd32"/><rect x="336" y="228" width="1" height="39" fill="#32cd32"/><rect x="334" y="236" width="5" height="4" fill="#32cd32"/><rect x="344" y="219" width="1" height="30" fill="#ff0000"/><rect x="342" y="222" width="5" height="19" fill="#ff0000"/><rect x="343" y="223" width="3" height="17" fill="#ff4500"/><rect x="352" y="218" width="1" height="37" fill="#32cd32"/><rect x="350" y="222" width="5" height="8" fill="#32cd32"/><rect x="360" y="198" width="1" height="44" fill="#ff0000"/><rect x="358" y="203" width="5" height="27" fill="#ff0000"/><rect x="359" y="204" width="3" height="25" fill="#ff4500"/><rect x="368" y="198" width="1" height="9" fill="#32cd32"/><rect x="366" y="203" width="5" height="1" fill="#32cd32"/><rect x="376" y="185" width="1" height="38" fill="#ff0000"/><rect x="374" y="190" width="5" height="19" fill="#ff0000"/><rect x="375" y="191" width="3" height="17" fill="#ff4500"/><rect x="384" y="176" width="1" height="28" fill="#ff0000"/><rect x="382" y="188" width="5" height="3" fill="#ff0000"/><rect x="383" y="189" width="3" height="1" fill="#ff4500"/><rect x="392" y="173" width="1" height="26" fill="#ff0000"/><rect x="390" y="175" width="5" height="14" fill="#ff0000"/><rect x="391" y="176" width="3" height="12" fill="#ff4500"/><rect x="400" y="174" width="1" height="86" fill="#32cd32"/><rect x="398" y="174" width="5" height="44" fill="#32cd32"/><rect x="408" y="174" width="1" height="56" fill="#ff0000"/><rect x="406" y="187" width="5" height="31" fill="#ff0000"/><rect x="407" y="188" width="3" height="29" fill="#ff4500"/><rect x="416" y="178" width="1" height="17" fill="#ff0000"/><rect x="414" y="181" width="5" height="7" fill="#ff0000"/><rect x="415" y="182" width="3" height="5" fill="#ff4500"/><rect x="424" y="182" width="1" height="32" fill="#32cd32"/><rect x="422" y="185" width="5" height="12" fill="#32cd32"/><rect x="432" y="188" width="1" height="58" fill="#32cd32"/><rect x="430" y="195" width="5" height="11" fill="#32cd32"/><rect x="440" y="170" width="1" height="40" fill="#ff0000"/><rect x="438" y="195" width="5" height="11" fill="#ff0000"/><rect x="439" y="196" width="3" height="9" fill="#ff4500"/><rect x="448" y="188" width="1" height="93" fill="#32cd32"/><rect x="446" y="195" width="5" height="62" fill="#32cd32"/><rect x="456" y="233" width="1" height="38" fill="#32cd32"/><rect x="454" y="257" width="5" height="1" fill="#32cd32"/><rect x="464" y="253" width="1" height="33" fill="#32cd32"/><rect x="462" y="257" width="5" height="26" fill="#32cd32"/><rect x="472" y="267" width="1" height="40" fill="#32cd32"/><rect x="470" y="272" width="5" height="12" fill="#32cd32"/><rect x="480" y="254" width="1" height="56" fill="#ff0000"/><rect x="478" y="255" width="5" height="29" fill="#ff0000"/><rect x="479" y="256" width="3" height="27" fill="#ff4500"/><rect x="488" y="212" width="1" height="49" fill="#ff0000"/><rect x="486" y="253" width="5" height="2" fill="#ff0000"/><rect x="496" y="222" width="1" height="42" fill="#ff0000"/><rect x="494" y="240" width="5" height="14" fill="#ff0000"/><rect x="495" y="241" width="3" height="12" fill="#ff4500"/><rect x="504" y="195" width="1" height="56" fill="#ff0000"/><rect x="502" y="212" width="5" height="29" fill="#ff0000"/><rect x="503" y="213" width="3" height="27" fill="#ff4500"/><rect x="512" y="198" width="1" height="17" fill="#ff0000"/><rect x="510" y="199" width="5" height="14" fill="#ff0000"/><rect x="511" y="200" width="3" height="12" fill="#ff4500"/><rect x="520" y="196" width="1" height="63" fill="#32cd32"/><rect x="518" y="206" width="5" height="28" fill="#32cd32"/><rect x="528" y="231" width="1" height="45" fill="#32cd32"/><rect x="526" y="233" width="5" height="16" fill="#32cd32"/><rect x="536" y="234" width="1" height="36" fill="#ff0000"/><rect x="534" y="247" width="5" height="2" fill="#ff0000"/><rect x="544" y="222" width="1" height="88" fill="#ff0000"/><rect x="542" y="243" width="5" height="5" fill="#ff0000"/><rect x="543" y="244" width="3" height="3" fill="#ff4500"/><rect x="552" y="239" width="1" height="94" fill="#32cd32"/><rect x="550" y="243" width="5" height="25" fill="#32cd32"/><rect x="560" y="226" width="1" height="50" fill="#ff0000"/><rect x="558" y="227" width="5" height="41" fill="#ff0000"/><rect x="559" y="228" width="3" height="39" fill="#ff4500"/><rect x="568" y="225" width="1" height="87" fill="#32cd32"/><rect x="566" y="238" width="5" height="46" fill="#32cd32"/><rect x="576" y="280" width="1" height="40" fill="#32cd32"/><rect x="574" y="283" width="5" height="31" fill="#32cd32"/><rect x="584" y="247" width="1" height="76" fill="#ff0000"/><rect x="582" y="279" width="5" height="41" fill="#ff0000"/><rect x="583" y="280" width="3" height="39" fill="#ff4500"/><rect x="592" y="214" width="1" height="119" fill="#ff0000"/><rect x="590" y="276" width="5" height="5" fill="#ff0000"/><rect x="591" y="277" width="3" height="3" fill="#ff4500"/><rect x="600" y="265" width="1" height="117" fill="#32cd32"/><rect x="598" y="278" width="5" height="56" fill="#32cd32"/><rect x="608" y="315" width="1" height="28" fill="#ff0000"/><rect x="606" y="317" width="5" height="17" fill="#ff0000"/><rect x="607" y="318" width="3" height="15" fill="#ff4500"/><rect x="616" y="300" width="1" height="45" fill="#ff0000"/><rect x="614" y="321" width="5" height="14" fill="#ff0000"/><rect x="615" y="322" width="3" height="12" fill="#ff4500"/><rect x="624" y="317" width="1" height="51" fill="#32cd32"/><rect x="622" y="321" width="5" height="42" fill="#32cd32"/><rect x="632" y="280" width="1" height="96" fill="#ff0000"/><rect x="630" y="290" width="5" height="73" fill="#ff0000"/><rect x="631" y="291" width="3" height="71" fill="#ff4500"/><rect x="640" y="255" width="1" height="73" fill="#ff0000"/><rect x="638" y="281" width="5" height="10" fill="#ff0000"/><rect x="639" y="282" width="3" height="8" fill="#ff4500"/><rect x="648" y="267" width="1" height="54" fill="#32cd32"/><rect x="646" y="281" width="5" height="36" fill="#32cd32"/><rect x="656" y="305" width="1" height="17" fill="#ff0000"/><rect x="654" y="310" width="5" height="7" fill="#ff0000"/><rect x="655" y="311" width="3" height="5" fill="#ff4500"/><rect x="664" y="304" width="1" height="80" fill="#32cd32"/><rect x="662" y="307" width="5" height="51" fill="#32cd32"/><rect x="672" y="338" width="1" height="46" fill="#32cd32"/><rect x="670" y="358" width="5" height="1" fill="#32cd32"/><rect x="680" y="352" width="1" height="86" fill="#32cd32"/><rect x="678" y="357" width="5" height="45" fill="#32cd32"/><rect x="688" y="360" width="1" height="94" fill="#ff0000"/><rect x="686" y="370" width="5" height="32" fill="#ff0000"/><rect x="687" y="371" width="3" height="30" fill="#ff4500"/><rect x="696" y="318" width="1" height="54" fill="#ff0000"/><rect x="694" y="345" width="5" height="26" fill="#ff0000"/><rect x="695" y="346" width="3" height="24" fill="#ff4500"/><rect x="704" y="328" width="1" height="23" fill="#ff0000"/><rect x="702" y="329" width="5" height="17" fill="#ff0000"/><rect x="703" y="330" width="3" height="15" fill="#ff4500"/><rect x="712" y="328" width="1" height="42" fill="#32cd32"/><rect x="710" y="340" width="5" height="22" fill="#32cd32"/><rect x="720" y="304" width="1" height="69" fill="#ff0000"/><rect x="718" y="314" width="5" height="48" fill="#ff0000"/><rect x="719" y="315" width="3" height="46" fill="#ff4500"/><rect x="728" y="265" width="1" height="51" fill="#ff0000"/><rect x="726" y="271" width="5" height="44" fill="#ff0000"/><rect x="727" y="272" width="3" height="42" fill="#ff4500"/><rect x="736" y="223" width="1" height="63" fill="#ff0000"/><rect x="734" y="234" width="5" height="38" fill="#ff0000"/><rect x="735" y="235" width="3" height="36" fill="#ff4500"/><rect x="744" y="219" width="1" height="26" fill="#ff0000"/><rect x="742" y="222" width="5" height="11" fill="#ff0000"/><rect x="743" y="223" width="3" height="9" fill="#ff4500"/><rect x="752" y="218" width="1" height="10" fill="#32cd32"/><rect x="750" y="222" width="5" height="4" fill="#32cd32"/><rect x="760" y="190" width="1" height="41" fill="#ff0000"/><rect x="758" y="201" width="5" height="28" fill="#ff0000"/><rect x="759" y="202" width="3" height="26" fill="#ff4500"/><rect x="768" y="192" width="1" height="25" fill="#32cd32"/><rect x="766" y="201" width="5" height="1" fill="#32cd32"/><rect x="776" y="188" width="1" height="34" fill="#32cd32"/><rect x="774" y="201" width="5" height="19" fill="#32cd32"/><rect x="784" y="210" width="1" height="32" fill="#32cd32"/><rect x="782" y="220" width="5" height="10" fill="#32cd32"/><rect x="792" y="201" width="1" height="44" fill="#32cd32"/><rect x="790" y="228" width="5" height="17" fill="#32cd32"/><rect x="800" y="239" width="1" height="16" fill="#32cd32"/><rect x="798" y="244" width="5" height="4" fill="#32cd32"/><rect x="808" y="243" width="1" height="24" fill="#32cd32"/><rect x="806" y="246" width="5" height="18" fill="#32cd32"/><rect x="816" y="222" width="1" height="49" fill="#ff0000"/><rect x="814" y="228" width="5" height="36" fill="#ff0000"/><rect x="815" y="229" width="3" height="34" fill="#ff4500"/><rect x="824" y="184" width="1" height="49" fill="#ff0000"/><rect x="822" y="196" width="5" height="33" fill="#ff0000"/><rect x="823" y="197" width="3" height="31" fill="#ff4500"/><rect x="832" y="187" width="1" height="81" fill="#32cd32"/><rect x="830" y="196" width="5" height="62" fill="#32cd32"/><rect x="840" y="214" width="1" height="44" fill="#ff0000"/><rect x="838" y="236" width="5" height="22" fill="#ff0000"/><rect x="839" y="237" width="3" height="20" fill="#ff4500"/><rect x="848" y="226" width="1" height="22" fill="#ff0000"/><rect x="846" y="226" width="5" height="11" fill="#ff0000"/><rect x="847" y="227" width="3" height="9" fill="#ff4500"/><rect x="856" y="184" width="1" height="44" fill="#ff0000"/><rect x="854" y="202" width="5" height="26" fill="#ff0000"/><rect x="855" y="203" width="3" height="24" fill="#ff4500"/><rect x="864" y="158" width="1" height="48" fill="#ff0000"/><rect x="862" y="177" width="5" height="26" fill="#ff0000"/><rect x="863" y="178" width="3" height="24" fill="#ff4500"/><rect x="872" y="165" width="1" height="28" fill="#ff0000"/><rect x="870" y="170" width="5" height="8" fill="#ff0000"/><rect x="871" y="171" width="3" height="6" fill="#ff4500"/><rect x="880" y="151" width="1" height="25" fill="#000000"/><rect x="878" y="170" width="5" height="1" fill="#000000"/><rect x="888" y="152" width="1" height="31" fill="#32cd32"/><rect x="886" y="170" width="5" height="5" fill="#32cd32"/><rect x="896" y="170" width="1" height="13" fill="#32cd32"/><rect x="894" y="174" width="5" height="5" fill="#32cd32"/><rect x="904" y="127" width="1" height="62" fill="#ff0000"/><rect x="902" y="138" width="5" height="47" fill="#ff0000"/><rect x="903" y="139" width="3" height="45" fill="#ff4500"/><rect x="912" y="131" width="1" height="13" fill="#ff0000"/><rect x="910" y="137" width="5" height="2" fill="#ff0000"/></g>
<g shape-rendering="crispEdges"><rect x="308" y="95" width="696" height="2" fill="#ff2020"/><rect x="518" y="185" width="479" height="2" fill="#99cc00"/><rect x="730" y="232" width="273" height="2" fill="#1e88e5"/></g>
<g shape-rendering="crispEdges"><rect x="7" y="32" width="1" height="583" fill="#000"/></g>
<g shape-rendering="crispEdges"><rect x="1159" y="65" width="2" height="1" fill="#000"/><rect x="1159" y="98" width="2" height="1" fill="#000"/><rect x="1159" y="131" width="2" height="1" fill="#000"/><rect x="1159" y="164" width="2" height="1" fill="#000"/><rect x="1159" y="197" width="2" height="1" fill="#000"/><rect x="1159" y="230" width="2" height="1" fill="#000"/><rect x="1159" y="263" width="2" height="1" fill="#000"/><rect x="1159" y="296" width="2" height="1" fill="#000"/><rect x="1159" y="329" width="2" height="1" fill="#000"/><rect x="1159" y="362" width="2" height="1" fill="#000"/><rect x="1159" y="395" width="2" height="1" fill="#000"/><rect x="1159" y="428" width="2" height="1" fill="#000"/><rect x="1159" y="461" width="2" height="1" fill="#000"/><rect x="1159" y="468" width="1" height="1" fill="#000"/><rect x="1159" y="501" width="2" height="1" fill="#000"/><rect x="1159" y="523" width="1" height="1" fill="#000"/><rect x="1159" y="528" width="1" height="1" fill="#000"/><rect x="1159" y="553" width="2" height="1" fill="#000"/><rect x="1159" y="588" width="2" height="1" fill="#000"/><rect x="1159" y="612" width="1" height="1" fill="#000"/></g>
<text x="1164.5" y="69" font-size="10" fill="#000" textLength="32.5" lengthAdjust="spacingAndGlyphs">1.01160</text><text x="1164.5" y="102" font-size="10" fill="#000" textLength="32.5" lengthAdjust="spacingAndGlyphs">1.00820</text><text x="1164.5" y="135" font-size="10" fill="#000" textLength="32.5" lengthAdjust="spacingAndGlyphs">1.00480</text><text x="1164.5" y="168" font-size="10" fill="#000" textLength="32.5" lengthAdjust="spacingAndGlyphs">1.00140</text><text x="1164.5" y="201" font-size="10" fill="#000" textLength="32.5" lengthAdjust="spacingAndGlyphs">0.99800</text><text x="1164.5" y="234" font-size="10" fill="#000" textLength="32.5" lengthAdjust="spacingAndGlyphs">0.99460</text><text x="1164.5" y="267" font-size="10" fill="#000" textLength="32.5" lengthAdjust="spacingAndGlyphs">0.99110</text><text x="1164.5" y="300" font-size="10" fill="#000" textLength="32.5" lengthAdjust="spacingAndGlyphs">0.98770</text><text x="1164.5" y="333" font-size="10" fill="#000" textLength="32.5" lengthAdjust="spacingAndGlyphs">0.98430</text><text x="1164.5" y="366" font-size="10" fill="#000" textLength="32.5" lengthAdjust="spacingAndGlyphs">0.98090</text><text x="1164.5" y="399" font-size="10" fill="#000" textLength="32.5" lengthAdjust="spacingAndGlyphs">0.97750</text><text x="1164.5" y="432" font-size="10" fill="#000" textLength="32.5" lengthAdjust="spacingAndGlyphs">0.97410</text><text x="1164.5" y="465" font-size="10" fill="#000" textLength="32.5" lengthAdjust="spacingAndGlyphs">0.97070</text><rect x="1160" y="132" width="41" height="11" fill="#000" shape-rendering="crispEdges"/><text x="1164.5" y="141" font-size="10" fill="#fff" textLength="32.5" lengthAdjust="spacingAndGlyphs">1.00416</text><text x="1162.5" y="477" font-size="10" fill="#000" textLength="37.5" lengthAdjust="spacingAndGlyphs">0.005985</text><text x="1162.5" y="505" font-size="10" fill="#000" textLength="19" lengthAdjust="spacingAndGlyphs">0.00</text><text x="1161.5" y="521" font-size="10" fill="#000" textLength="41.5" lengthAdjust="spacingAndGlyphs">-0.003954</text><text x="1162.5" y="537" font-size="10" fill="#000" textLength="15" lengthAdjust="spacingAndGlyphs">100</text><text x="1161.5" y="557" font-size="10" fill="#000" textLength="10" lengthAdjust="spacingAndGlyphs">70</text><text x="1161.5" y="592" font-size="10" fill="#000" textLength="10" lengthAdjust="spacingAndGlyphs">30</text><text x="1162.5" y="611" font-size="10" fill="#000" textLength="5" lengthAdjust="spacingAndGlyphs">0</text><path d="M11 39h7l-3.5 4z" fill="#000" shape-rendering="crispEdges"/><text x="23.5" y="44" font-size="10" fill="#000" textLength="64.5" lengthAdjust="spacingAndGlyphs">USDCHF,Daily</text><text x="95" y="44" font-size="10" fill="#000" textLength="32" lengthAdjust="spacingAndGlyphs">1.00408</text><text x="131" y="44" font-size="10" fill="#000" textLength="32" lengthAdjust="spacingAndGlyphs">1.00485</text><text x="167" y="44" font-size="10" fill="#000" textLength="32" lengthAdjust="spacingAndGlyphs">1.00358</text><text x="203" y="44" font-size="10" fill="#000" textLength="32" lengthAdjust="spacingAndGlyphs">1.00416</text><text x="12" y="479" font-size="10" fill="#000" textLength="148" lengthAdjust="spacingAndGlyphs">MACD(12,26,9) 0.003242 0.002472</text><text x="12" y="539" font-size="10" fill="#000" textLength="68" lengthAdjust="spacingAndGlyphs">RSI(14) 65.9492</text><g shape-rendering="crispEdges"><rect x="8" y="615" width="1" height="3" fill="#000"/><rect x="72" y="615" width="1" height="3" fill="#000"/><rect x="136" y="615" width="1" height="3" fill="#000"/><rect x="200" y="615" width="1" height="3" fill="#000"/><rect x="264" y="615" width="1" height="3" fill="#000"/><rect x="328" y="615" width="1" height="3" fill="#000"/><rect x="392" y="615" width="1" height="3" fill="#000"/><rect x="456" y="615" width="1" height="3" fill="#000"/><rect x="520" y="615" width="1" height="3" fill="#000"/><rect x="584" y="615" width="1" height="3" fill="#000"/><rect x="648" y="615" width="1" height="3" fill="#000"/><rect x="712" y="615" width="1" height="3" fill="#000"/><rect x="776" y="615" width="1" height="3" fill="#000"/><rect x="840" y="615" width="1" height="3" fill="#000"/><rect x="904" y="615" width="1" height="3" fill="#000"/></g>
<text x="7.5" y="627" font-size="10" fill="#000" textLength="45.4" lengthAdjust="spacingAndGlyphs">3 Oct 2018</text><text x="71.5" y="627" font-size="10" fill="#000" textLength="50.4" lengthAdjust="spacingAndGlyphs">12 Oct 2018</text><text x="135.5" y="627" font-size="10" fill="#000" textLength="50.4" lengthAdjust="spacingAndGlyphs">22 Oct 2018</text><text x="199.5" y="627" font-size="10" fill="#000" textLength="50.4" lengthAdjust="spacingAndGlyphs">31 Oct 2018</text><text x="263.5" y="627" font-size="10" fill="#000" textLength="49.1" lengthAdjust="spacingAndGlyphs">9 Nov 2018</text><text x="327.5" y="627" font-size="10" fill="#000" textLength="54.1" lengthAdjust="spacingAndGlyphs">19 Nov 2018</text><text x="391.5" y="627" font-size="10" fill="#000" textLength="54.1" lengthAdjust="spacingAndGlyphs">28 Nov 2018</text><text x="455.5" y="627" font-size="10" fill="#000" textLength="46.4" lengthAdjust="spacingAndGlyphs">7 Dec 2018</text><text x="519.5" y="627" font-size="10" fill="#000" textLength="51.4" lengthAdjust="spacingAndGlyphs">17 Dec 2018</text><text x="583.5" y="627" font-size="10" fill="#000" textLength="51.4" lengthAdjust="spacingAndGlyphs">26 Dec 2018</text><text x="647.5" y="627" font-size="10" fill="#000" textLength="44.4" lengthAdjust="spacingAndGlyphs">4 Jan 2019</text><text x="711.5" y="627" font-size="10" fill="#000" textLength="49.4" lengthAdjust="spacingAndGlyphs">14 Jan 2019</text><text x="775.5" y="627" font-size="10" fill="#000" textLength="49.4" lengthAdjust="spacingAndGlyphs">23 Jan 2019</text><text x="839.5" y="627" font-size="10" fill="#000" textLength="46.1" lengthAdjust="spacingAndGlyphs">1 Feb 2019</text><text x="903.5" y="627" font-size="10" fill="#000" textLength="51.1" lengthAdjust="spacingAndGlyphs">11 Feb 2019</text><text x="7.7" y="20" font-size="10" fill="#404040" textLength="17.5" lengthAdjust="spacingAndGlyphs">M30</text><text x="38.7" y="20" font-size="10" fill="#404040" textLength="11.6" lengthAdjust="spacingAndGlyphs">H1</text><text x="65.7" y="20" font-size="10" fill="#404040" textLength="12.4" lengthAdjust="spacingAndGlyphs">H4</text><text x="94.5" y="20" font-size="10" fill="#404040" textLength="12" lengthAdjust="spacingAndGlyphs">D1</text><text x="122" y="20" font-size="10" fill="#404040" textLength="14.5" lengthAdjust="spacingAndGlyphs">W1</text><text x="148.5" y="20" font-size="10" fill="#404040" textLength="15" lengthAdjust="spacingAndGlyphs">MN</text><g shape-rendering="crispEdges"><rect x="101" y="640" width="1" height="15" fill="#808080"/><rect x="409" y="640" width="1" height="15" fill="#808080"/><rect x="513" y="640" width="1" height="15" fill="#808080"/><rect x="609" y="640" width="1" height="15" fill="#808080"/><rect x="701" y="640" width="1" height="15" fill="#808080"/><rect x="817" y="640" width="1" height="15" fill="#808080"/><rect x="905" y="640" width="1" height="15" fill="#808080"/><rect x="1009" y="640" width="1" height="15" fill="#808080"/><rect x="1077" y="640" width="1" height="15" fill="#808080"/><rect x="205" y="637" width="100" height="19" fill="#ffffff"/><rect x="205" y="637" width="1" height="19" fill="#000"/><rect x="304" y="637" width="1" height="19" fill="#000"/><rect x="205" y="655" width="100" height="1" fill="#000"/><rect x="206" y="637" width="98" height="1" fill="#ffffff"/><rect x="305" y="638" width="1" height="18" fill="#fafafa"/></g>
<text x="21.6" y="652" font-size="12.5" fill="#707070" textLength="67.4" lengthAdjust="spacingAndGlyphs">EURUSD,H4</text><text x="112.2" y="652" font-size="12.5" fill="#707070" textLength="81.8" lengthAdjust="spacingAndGlyphs">AUDUSD,Daily</text><text x="315.9" y="652" font-size="12.5" fill="#707070" textLength="81.4" lengthAdjust="spacingAndGlyphs">USDCAD,Daily</text><text x="419.3" y="652" font-size="12.5" fill="#707070" textLength="82.7" lengthAdjust="spacingAndGlyphs">USDCNH,Daily</text><text x="523" y="652" font-size="12.5" fill="#707070" textLength="74.8" lengthAdjust="spacingAndGlyphs">USDJPY,Daily</text><text x="619.4" y="652" font-size="12.5" fill="#707070" textLength="69.2" lengthAdjust="spacingAndGlyphs">XAUUSD,H1</text><text x="711.9" y="652" font-size="12.5" fill="#707070" textLength="94.1" lengthAdjust="spacingAndGlyphs">GBPUSD,Weekly</text><text x="829.5" y="652" font-size="12.5" fill="#707070" textLength="62.6" lengthAdjust="spacingAndGlyphs">SP500,M15</text><text x="917.3" y="652" font-size="12.5" fill="#707070" textLength="79.7" lengthAdjust="spacingAndGlyphs">GBPUSD,Daily</text><text x="1019.4" y="652" font-size="12.5" fill="#707070" textLength="46.3" lengthAdjust="spacingAndGlyphs">DJ30,H4</text><text x="1087.4" y="652" font-size="12.5" fill="#707070" textLength="69.4" lengthAdjust="spacingAndGlyphs">TECH100,H1</text><text x="216.1" y="652" font-size="12.5" fill="#000" textLength="78.2" lengthAdjust="spacingAndGlyphs">USDCHF,Daily</text><path d="M1177.5 642.5v7l-3.5 -3.5z" fill="#a0a0a0"/><path d="M1193 642.5v7l3.5 -3.5z" fill="#000"/></svg>
</body></html>
